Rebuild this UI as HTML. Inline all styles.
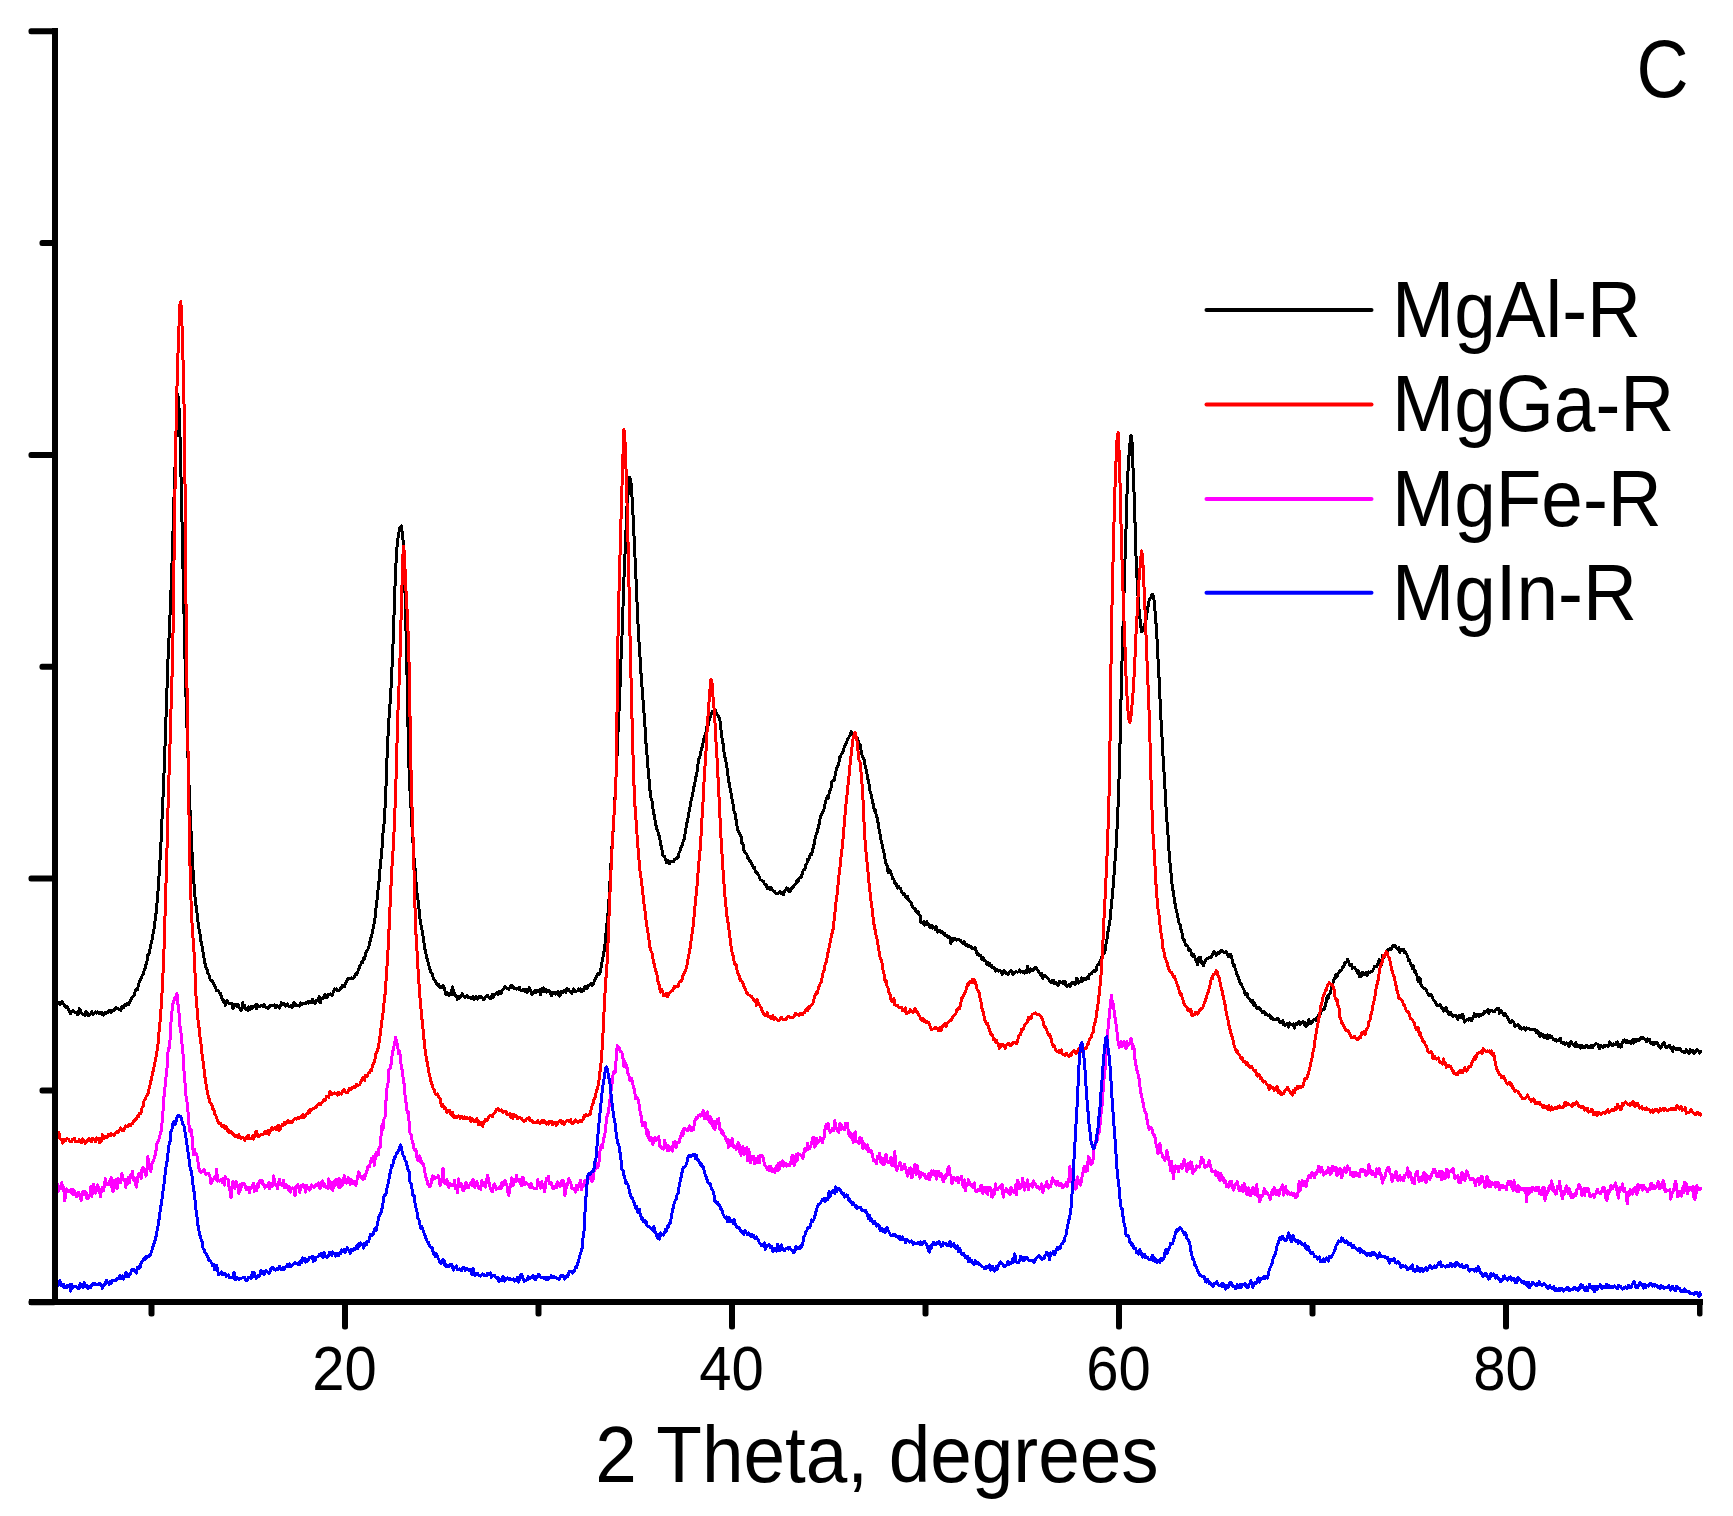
<!DOCTYPE html>
<html><head><meta charset="utf-8"><title>XRD</title>
<style>
html,body{margin:0;padding:0;background:#fff}
svg{display:block}
text{font-family:"Liberation Sans",Arial,sans-serif;fill:#000}
.t{font-size:58px}
.b{font-size:74.7px}
.c path{fill:none;stroke-width:3;stroke-linejoin:round;stroke-linecap:round}
</style></head><body>
<svg width="1733" height="1516" viewBox="0 0 1733 1516">
<rect width="1733" height="1516" fill="#fff"/>
<g class="c" shape-rendering="crispEdges">
<path d="M56.0 1003.7l1 .3 .9-1 1-.6 1 2.4 .9-1.5 1-1.5 1 1.1 .9 1.5 1 1.5 1 .6 .9 1.3 1-.9 1 3.3 .9 1.1 1 2.1 1-1.3 .9-1.1 1-.1 1 .8 1 .7 .9 0 1 2.4 1-.9 .9-5.2 1 1.3 1 2.8 .9 .7 1 1.3 1-.2 .9 1.3 1-4.4 1 .6 .9 3.4 1-1.6 1 1.2 .9-1.8 1-1.7 1 2.7 .9-.2 1-1.3 1-.9 .9 1.1 1-1.3 1 1.4 .9-.1 1 .1 1-.5 .9 1.9 1 .7 1-1 .9-2.1 1 1.2 1-1.3 .9 .1 1-2.1 1 2 .9 .6 1-1.9 1 .3 1-1.8 .9 .2 1-1.7 1 .6 .9 .2 1 .6 1 0 .9 1.1 1-3.7 1 1.4 .9-.5 1-2.2 1-.9 .9 .8 1-1.7 1 1.2 .9-2.1 1-2.5 1-1.5 .9-1.1 1-1.2 1-1.5 .9-4.3 1-1.3 1 .8 .9-3.8 1-4 1-2.2 .9-1.6 1-2.5 1-1.4 .9-3.3 1-2.6 1-4 .9-2.2 1-7.6 1-.1 .9-4.1 1-6 1-3.4 1-5.8 .9-4.1 1-7.9 1-6.7 .9-8.9 1-10.9 1-13.9 .9-15 1-14.6 1-21.8 .9-21.8 1-20.3 1-26.4 .9-24.6 1-30.8 1-27.5 .9-26.8 1-18.6 1-23.8 .9-23.1 1-27.4 1-32.6 .9-30.7 1-29.6 1-30.1 .9-27.5 1-15.6 1 11.4 .9 22.3 1 40.2 1 43 .9 44.4 1 43.6 1 46.9 .9 37.4 1 32 1 30.6 .9 24.4 1 28.8 1 21.2 1 20.5 .9 19.5 1 15.1 1 13.4 .9 11.3 1 7.2 1 7.2 .9 9.3 1 6.2 1 4.4 .9 7.6 1 4 1 6.4 .9 5.5 1 5.5 1 4.6 .9 0 1 5.2 1 .9 .9 4.2 1 2 1-.4 .9 1.5 1 2 1 2.8 .9 1.2 1 3.3 1-.2 .9 0 1 2.4 1 .3 .9 3.8 1 1.9 1 2.5 .9-1.2 1 5 1-3.2 .9-1.3 1 1.9 1 1.2 1-.4 .9 .5 1-.3 1 5.2 .9-2.5 1-2.4 1 .4 .9 2 1-2.1 1 3.2 .9 .7 1 1.9 1-.6 .9-7.1 1 5.2 1-2.2 .9 3.6 1 0 1 1.3 .9-3.4 1 2.4 1-.6 .9-2.7 1 2.1 1-1.6 .9 .2 1-1.8 1 4 .9-4.6 1 1.5 1 .8 .9-.6 1-.2 1-.9 .9 1.5 1-1.8 1 2 .9 .4 1 .8 1 .5 1-1.8 .9 .4 1-1.8 1 .6 .9-.5 1 .1 1-.5 .9 2.7 1-2 1 .1 .9 1.1 1 1.2 1-1.9 .9-3.4 1 2.1 1 .1 .9-1.2 1 2.4 1-1.2 .9-.9 1 1.3 1 1.1 .9 .6 1-1.7 1 2.3 .9-2.7 1-2.1 1 2.5 .9-1.4 1 1.7 1 0 .9 .3 1 .2 1-3.1 .9 1.5 1-1 1 0 .9 .5 1-.5 1-1 1-.7 .9 1.2 1-1.6 1 .3 .9 1 1-3.3 1 2.6 .9-.3 1 1.9 1-3 .9 .1 1-.9 1-3 .9 6.3 1-3.6 1-1.3 .9 .8 1-2.5 1-1.8 .9 2.6 1 .3 1-2.9 .9-.4 1 .6 1-1 .9 1.4 1-1.1 1-3.2 .9-2 1 .6 1-.7 .9 1.9 1-.7 1 .2 .9-1.8 1-.6 1-2.7 .9 .9 1 .6 1-2.6 1-2.4 .9-1 1-2.5 1 .6 .9-.3 1-.6 1 .9 .9 0 1-1.1 1-1.9 .9-2.5 1 1.3 1-3.5 .9-1.9 1-3.2 1-1.1 .9-3.3 1 .7 1-4.3 .9 .4 1-4.7 1-2.4 .9-1.3 1-2 1-3.5 .9-5 1-3.5 1-2.9 .9-5.8 1-4.5 1-7 .9-9.6 1-7.1 1-11.4 .9-6.9 1-12.6 1-10.1 .9-9.4 1-15.9 1-8.7 1-16 .9-18.3 1-28.7 1-23.2 .9-16.5 1-14 1-15 .9-18.4 1-20.6 1-28.2 .9-28 1-26.3 1-18.4 .9-12.6 1-3.9 1-7.4 .9-1.2 1-1.6 1 8.3 .9 8.5 1 24 1 37.1 .9 34.5 1 44.6 1 53.5 .9 34.6 1 22.2 1 16.1 .9 17.7 1 15.6 1 15.2 .9 8.7 1 13.9 1 12.2 .9 6 1 8.6 1 10.1 .9 7 1 3.4 1 7 1 5 .9 8.6 1 3.2 1 6.8 .9 1.1 1 5.4 1 2.9 .9 3.2 1 2.3 1 .9 .9 4.5 1 1.1 1 1.5 .9 1.8 1 2.1 1-.8 .9 2.9 1 .5 1-1.4 .9 1.4 1-1.9 1 1.4 .9 3.5 1 4.4 1-2.2 .9 1.2 1 1.2 1-1.9 .9 1 1-3.8 1-3.6 .9 7.6 1-1.4 1 3 .9-.2 1 3.4 1-.8 .9-2.2 1 .9 1-1.8 1-1.8 .9 1.9 1 1.3 1 .6 .9-.7 1-1 1 2.1 .9-.7 1 .8 1 .4 .9 .4 1-2 1 2.7 .9-1.3 1-1.8 1 .9 .9 1.8 1-1.3 1-1.7 .9 0 1 2 1 .2 .9 1.7 1-1.2 1-1.7 .9-.4 1-1 1 1.4 .9 .8 1 1 1-2 .9-2.5 1 2.9 1-1.8 .9-1 1-.7 1-1.1 .9 1.5 1-2.7 1 1.6 1 .2 .9-3.2 1 .1 1-1.9 .9-1.8 1 1.1 1 .9 .9 .6 1 .2 1-1.8 .9-1.1 1-1.1 1 2.5 .9-1 1 2 1 .1 .9 .5 1-.9 1 .6 .9-1.6 1 2.3 1 1.3 .9-.1 1-1.4 1 1.6 .9-2.1 1 1.9 1 1.7 .9-2.1 1-2.8 1 1.6 .9 2.3 1 2.9 1-1.5 .9-1 1-1.1 1 1.6 .9-2.4 1 1.2 1-.5 1-1.4 .9 5.5 1-6 1 .8 .9-1.9 1 3.8 1-2 .9 2.4 1-.6 1-1.2 .9 .3 1 2.9 1 2.5 .9-3.7 1-.1 1 1.3 .9 .7 1-1.4 1 .9 .9-1.7 1 4.2 1-.4 .9-4.6 1 1.3 1 .4 .9-2.1 1 .4 1 1.2 .9-3.7 1 .4 1 .7 .9 1.4 1 .8 1 1.7 .9-1.7 1-3.2 1 1.1 .9 2 1-.7 1-.2 1-1.9 .9 1.7 1-1.7 1 2.8 .9-1.8 1 .8 1-2.1 .9-2.7 1 .4 1 1.8 .9-2.6 1-.2 1-1 .9-1.2 1 2.6 1-1.3 .9-2.2 1-2.6 1-2 .9-1.6 1-2.4 1 1 .9-1.4 1-3.1 1-6.4 .9-4.4 1-6.2 1-3.8 .9-11.3 1-10.7 1-9.1 .9-8.6 1-16.7 1-18.6 .9-17.1 1-15.3 1-14.4 .9-15.4 1-17.9 1-21.1 1-20.4 .9-23 1-20.1 1-24.7 .9-25.2 1-24 1-29 .9-27 1-23.1 1-23.1 .9-25.1 1-11.2 1-11.2 .9-9.1 1 2.6 1 11.8 .9 14.7 1 20.5 1 22 .9 19.2 1 22.4 1 22.7 .9 19.9 1 15.1 1 14.8 .9 16 1 11.4 1 13.4 .9 11.9 1 14.6 1 16.6 .9 8.8 1 14.1 1 10.6 .9 10.3 1 7.9 1 2.4 .9 8 1 5.2 1 5.1 1 6 .9 4.2 1 2.2 1 3.4 .9 3.4 1 6.7 1 2.4 .9 7.1 1 1.7 1 .3 .9 2.9 1 3.5 1-2.6 .9 1.2 1 2.4 1-2.3 .9 .5 1-.6 1 .5 .9-2.3 1-.4 1-.3 .9-1.1 1-.4 1-4.6 .9-1.9 1-3.7 1-1.6 .9-3.3 1-2.1 1-5.9 .9-4.7 1-6.4 1-3.9 .9-5.8 1-4.2 1-6.8 .9-4.4 1-2.4 1-8.1 1-1.8 .9-8 1-2.3 1-6.8 .9-8.1 1-3.1 1-2.6 .9-6.1 1-1.3 1-5.8 .9-5.1 1-1.9 1-3.6 .9-5 1-.5 1-5.1 .9-3.2 1-2.1 1-3.4 .9-.2 1-1 1 1.1 .9-.9 1 4.1 1 .4 .9 2.2 1 1 1 8.4 .9 9.6 1 3.8 1 7.9 .9 7.8 1 3.1 1 5.9 .9 5.1 1 9.4 1 5 .9 5.4 1 4 1 7 1 4.4 .9 6.8 1 1.6 1 7 .9 6.3 1 4 1 1.9 .9 2.1 1 1 1 7.9 .9-.6 1 7.2 1 2.2 .9 .7 1 .7 1 3.9 .9 .5 1 2.8 1 .3 .9 2 1 2.1 1 2.1 .9-.2 1 4.4 1-.2 .9 1.4 1 1.5 1 2 .9 3 1 .4 1 1 .9 0 1 2.2 1 1.1 .9 .6 1 3.2 1-.6 .9-.1 1 2.1 1-2 1 2.3 .9 .1 1 1.2 1 .4 .9 2 1 .3 1-.8 .9 0 1-1.7 1 2 .9-1.2 1 .9 1 1.5 .9-3.1 1-1.6 1-2 .9 2.1 1-1.3 1 3 .9-.4 1-2.3 1-1.7 .9 .1 1-1.9 1-1.3 .9-.9 1-2.9 1 1.3 .9-3.3 1-1.3 1 .4 .9-2.7 1-3.7 1-2 .9 .6 1-5.3 1-.6 .9-4.6 1 .7 1-4.4 1-1.3 .9 .5 1-5.1 1-2.4 .9-5.9 1-4.4 1-3.5 .9-1.6 1-5.4 1-2.8 .9-6.7 1-1.7 1-2.6 .9-1.8 1-2.4 1-5.9 .9-2.8 1-3 1 1.5 .9-4.2 1-3.6 1-2.4 .9-6.2 1-.9 1 .1 .9-4.2 1-4.4 1-4.8 .9-1.2 1-2 1-7 .9-1.1 1-2.7 1-.8 .9-3.1 1-3 1-2.8 .9-1 1-3.5 1-1.2 1-1.9 .9-1.2 1-3.5 1 1.3 .9 2.9 1-.3 1-1.4 .9 2.2 1 1.4 1 3 .9 3.6 1 .2 1 5.3 .9 4.8 1 2.7 1 1.4 .9 5.5 1 3.5 1 4.7 .9 5.9 1 3.3 1 8.4 .9 2.3 1 4.7 1 4.6 .9 4.4 1 4.6 1 0 .9 5.9 1 1.9 1 6.6 .9 5.8 1 4.6 1 6.1 .9 3.2 1 5.6 1 3.5 .9 5.6 1 4.6 1 1.1 1 7.2 .9-2.4 1 .7 1 2.9 .9 2.2 1 3.3 1 .3 .9 4.5 1-.8 1 3.4 .9 1.8 1-1.9 1 1.9 .9 .2 1 3.7 1 .6 .9 1.9 1-.6 1 2.1 .9 2.1 1-2.1 1 3.4 .9 1.4 1 1.1 1 .7 .9 3.4 1 1.5 1 .8 .9-.3 1 4 1-.3 .9-.4 1 2.8 1 1.3 .9 6.9 1 0 1 1.2 .9-2.1 1 3.6 1-1.9 1-1.4 .9 3 1-.3 1 2.7 .9 .5 1-2.6 1 3.1 .9-1.2 1 .6 1 1.8 .9-2.7 1 5.5 1-1.6 .9-.4 1 1.5 1 1 .9-1.2 1 1.7 1-.1 .9 2.7 1-.2 1-.5 .9 2.5 1-1.1 1 1.9 .9 4.9 1-4.5 1 1.7 .9-.9 1-1.5 1 1 .9 1 1-.4 1-.3 .9 .8 1 .4 1 1.6 .9 .2 1 1.5 1-2.3 1 3.5 .9 .1 1-.5 1 2.2 .9-1.1 1 .3 1 .4 .9 2.2 1 0 1-.4 .9-.5 1 2.8 1 3.7 .9-.7 1 1.9 1 .4 .9-.6 1 4 1-2 .9 3.2 1 .2 1 .5 .9 3.2 1-1.7 1 2.7 .9-2.3 1 3.1 1-.9 .9 2.6 1 .2 1-.4 .9 3.5 1-1.6 1 .4 .9 1.2 1-.8 1 .5 .9 1 1 2.6 1-3.5 1-.2 .9 1 1 1.4 1-.1 .9 1.1 1-1.2 1-1.4 .9-1.1 1 .7 1 3.5 .9-1.6 1-.9 1-.4 .9 0 1 .4 1-.5 .9-2 1 2.5 1-.4 .9 .3 1-.4 1 1.4 .9-1.6 1 1.3 1-6.5 .9 3.3 1 2.5 1-3.1 .9 .4 1 1.4 1-1.8 .9 1 1-2.5 1-.1 .9 1.9 1 .7 1 2.6 .9 .5 1 2.4 1-1.7 1 4.8 .9-3.3 1 .4 1 .5 .9 .6 1 1.4 1 1.2 .9 2 1 .1 1 1.3 .9-2.6 1 .2 1 3.3 .9-1.2 1 1.1 1 1.3 .9 .3 1-3.9 1 1.2 .9-.1 1 .7 1-2 .9 3 1-2.5 1 2.9 .9 1.7 1-.8 1-.8 .9 2.3 1-2.5 1-1.6 .9-.2 1 .5 1 1.3 .9-1.3 1-4.8 1 1.6 .9 3.2 1-.8 1-.9 1-3.5 .9 3.1 1-2.6 1 1.1 .9-.6 1 .5 1-2.3 .9 1.6 1-4.5 1-.2 .9 0 1-1.7 1-.8 .9-1.5 1 1.8 1-1.6 .9-4.4 1-1.2 1 .2 .9-3.1 1-1.8 1-3.7 .9-1.1 1-2.2 1-.7 .9-7.1 1-3.4 1-8.4 .9-5.4 1-4.3 1-9.7 .9-9.9 1-10.2 1-10.5 .9-14.8 1-11.6 1-14.8 .9-19.3 1-21.8 1-30.7 1-37.4 .9-42.4 1-36.3 1-34.4 .9-29.6 1-34.1 1-29.4 .9-32.7 1-22.6 1-15.9 .9-11.9 1-8.5 1 4.2 .9 23.4 1 23.7 1 28.5 .9 33.7 1 23 1 20.2 .9 12.1 1 11.9 1 8.6 .9 7 1-.5 1-3.1 .9-1.9 1-3.9 1-3.9 .9-7.5 1-5.8 1-5.5 .9-1 1-1.2 1-3.1 .9 1.6 1 5.1 1 11.1 .9 11.6 1 15.5 1 19.7 1 18.9 .9 19.2 1 21.3 1 17.2 .9 17.6 1 15.5 1 17.1 .9 16.3 1 17.3 1 10.8 .9 14.7 1 15 1 9.5 .9 8.4 1 12.2 1 1.8 .9 9.9 1 3.8 1 6.1 .9 2.4 1 6.1 1 4.4 .9 .9 1 5.4 1 3.5 .9 5.9 1-.5 1 4.3 .9 1.6 1 .4 1 1.1 .9 4.3 1-2 1 2.5 .9 3.4 1 1.5 1-1.8 .9 2.5 1 2.4 1 2.8 1 2.5 .9-6.9 1 3.3 1-4 .9 5.9 1-.7 1 3.1 .9-3.5 1-1.2 1-1.4 .9-.7 1-.8 1-.8 .9-.2 1 .4 1-1.8 .9-2.8 1-1.4 1 1.7 .9 2.1 1-1.7 1-.8 .9 .8 1-1.6 1-1.1 .9 1.1 1-.9 1 1.1 .9 .9 1-1.3 1 1 .9 1.8 1 2.5 1-1.7 .9-1 1 2.6 1 4.1 .9 4.4 1-.8 1 5.4 1 1.8 .9 3.9 1 1.2 1 3.6 .9 2.8 1 .5 1 2.8 .9 1.6 1 2.2 1 3.9 .9 .4 1-1.2 1 4.4 .9 .2 1 1.2 1 2 .9 1.3 1-1.9 1 4.6 .9-2.3 1 2.8 1 2.8 .9 .3 1-1.2 1 .3 .9 1.8 1 1.6 1 1.2 .9-1.3 1 .3 1 3.3 .9-1 1 1.4 1 .7 .9-1 1 1 1 3.1 .9-1.8 1 2.4 1 .1 1 0 .9 .2 1-1.9 1 .8 .9 1.6 1 2.4 1-1.5 .9 1.4 1-2 1 4.2 .9 .3 1 0 1-1.4 .9-.2 1 3.7 1-4.6 .9 1.4 1 .3 1-.2 .9-.4 1 4.3 1-4 .9-.6 1 .7 1-1.3 .9-1.6 1 3.3 1-2 .9 .4 1-1.8 1 3 .9-2.2 1 4.3 1-2.3 .9 .3 1-4.5 1 4 .9 .1 1-1.3 1-2 1-.8 .9-.4 1 1 1-2.1 .9-1.3 1-1.9 1 1.9 .9-5.6 1-.6 1-1.6 .9 .6 1-1.2 1-3.7 .9-3.6 1-5.5 1 2.8 .9-4.5 1-1.2 1-3.4 .9-3.8 1-3.2 1-3.7 .9 .1 1-4.5 1 2.2 .9-2.8 1-1.1 1-2.4 .9 .6 1-1.1 1-2.8 .9 0 1-4.5 1-.5 .9 .2 1-2.8 1 2.6 .9 2.6 1 .8 1-1.1 1 4.1 .9-1 1 0 1 1.7 .9 1.2 1 2.7 1-2.2 .9 5.5 1-1.3 1 1.5 .9-4.4 1 1.6 1 1.3 .9-.3 1-2.7 1 3.7 .9-1.5 1-2.3 1 .6 .9-.8 1 0 1-1.2 .9-1.9 1-2.3 1 .5 .9 .1 1-2.9 1-2.6 .9-1.8 1 2.8 1 2.3 .9-9 1 2.3 1-2 .9-.5 1-1.8 1-2.8 .9-1.3 1-.5 1-.8 1 .9 .9-2.2 1-1.5 1 .4 .9-.7 1 2.2 1 1.4 .9 .7 1-1.9 1 4.7 .9-1.9 1-1.1 1 1.1 .9-.6 1 2.9 1-.1 .9 1.7 1 1.8 1 4.7 .9-.7 1 4.2 1 .4 .9 4.3 1-3.2 1 5.8 .9-.3 1 3.1 1 2.3 .9 5.1 1-3.9 1 1.3 .9 5.9 1 1 1 1.5 .9 .7 1 .2 1 .8 .9 2.5 1 1.9 1 1.7 1 .1 .9-1.1 1 1.6 1 2.7 .9 1.5 1 .9 1 1.8 .9 2.1 1 .3 1 .4 .9-1 1 .4 1 3.2 .9-.1 1 2.9 1-2.8 .9 2.1 1-2.7 1 3.4 .9 2.6 1 .7 1-2.2 .9 1.2 1 2.5 1 .4 .9-.4 1-.6 1-.3 .9 2.7 1 1.6 1-2 .9-2.2 1 2.2 1-.2 .9-2.9 1 4.8 1 3.1 .9-.9 1-1.2 1-.4 1 .6 .9-2 1 1.1 1 1.2 .9-2.2 1-1.5 1-3.2 .9 2.6 1 .4 1-2.2 .9 .2 1 2 1-2.5 .9 1.4 1-1.1 1 .4 .9-3 1 .8 1-1.3 .9-.5 1-.9 1 3.3 .9-2.8 1 .7 1-.8 .9 .8 1 .6 1-.3 .9-1.4 1-1.1 1-.5 .9-.3 1 5.2 1-1.8 .9-.9 1 2.1 1 1.1 .9 2.2 1-2.4 1 2.2 1 .8 .9 2.3 1 2.2 1 1.4 .9-.3 1-2 1 1.4 .9 1.4 1 3.5 1-.6 .9 .1 1-1.9 1 1.2 .9 2.9 1-.5 1 1.4 .9-.9 1-.5 1 1.7 .9 .9 1-2.3 1 .9 .9 0 1 0 1 .5 .9-.3 1 0 1 .5 .9-.4 1 1.4 1 1.7 .9-1.4 1 1.1 1 3.7 .9 .6 1-2.6 1 1.5 .9-1.2 1 3.5 1-2.1 1 .6 .9 2.2 1-3.3 1 3.2 .9-2.6 1 2.1 1-.7 .9 1.4 1 1.6 1 .4 .9-.8 1 1.7 1-.7 .9-.6 1 .6 1-2.1 .9 4.4 1 .4 1-.9 .9 1.6 1 .4 1-1.5 .9 .3 1 1.8 1 1.7 .9-3.6 1-1.4 1 2.5 .9 0 1 1 1 1.4 .9-3.7 1 3.4 1 .1 .9-.7 1 .1 1 2.5 .9-3.1 1 2.1 1-.2 1 .9 .9-1.5 1-1.2 1 1.6 .9 .9 1 0 1-2 .9-.3 1 2.4 1-1.8 .9-.5 1-1 1-.9 .9 .5 1 .6 1 4.3 .9-2.2 1-1.5 1 1.2 .9 1.3 1-2 1 1 .9-1.3 1-.3 1 1.3 .9-1.5 1-3 1 1.8 .9 1.6 1 .1 1-1.5 .9 .5 1-.1 1-2 .9-.6 1 4.9 1-2.4 .9 2.8 1-.2 1-4.4 1-1.9 .9-.6 1 2 1-1.7 .9 2 1-.4 1 .4 .9-.9 1 2.1 1-.7 .9-3.6 1 3.9 1-3.8 .9 2 1-2.1 1 1 .9 .4 1-1.6 1-1.4 .9 1 1-1.5 1 1.1 .9 .7 1 .5 1 2.2 .9-2.6 1 1.6 1-1.3 .9 3 1 1.1 1-1 .9 2.4 1-.3 1-2 .9 .8 1-.5 1 1.9 .9 1.9 1 1.5 1-.4 1-2.6 .9-2.1 1-.2 1 2.2 .9 2.2 1 .5 1-1 .9-.4 1-1.2 1 3.3 .9-.1 1 3.3 1-4.7 .9 1.4 1 1.2 1-1.1 .9 .8 1 .6 1-1.3 .9 .7 1 1.4 1 1 .9 .1 1 .7 1 .2 .9-3 1 .8 1 1.8 .9 1.3 1-4.1 1 1.8 .9 .5 1-1.1 1 3.4 .9-1.8 1-.9 1-1.8 .9 1.1 1 .7 1 1.8 1-1.3" stroke="#000"/>
<path d="M56.0 1135.3l1-.8 .9 0 1-1.8 1 5.6 .9 1.4 1 0 1 3.5 .9-2 1-2 1 1.3 .9-1.8 1 .2 1 .3 .9 1.7 1 .5 1 .5 .9-2.2 1 0 1-1.3 1 3 .9-.2 1 .3 1-.1 .9-1.9 1 1.9 1 1.6 .9-4.1 1 1 1 .7 .9 2.6 1-1 1-.3 .9-2.2 1-1.3 1 1.6 .9 1.1 1 .3 1-3.3 .9 .8 1 .7 1 2.1 .9-3.9 1 1 1-.1 .9 3.8 1-3 1 1.5 .9-6.5 1 4.3 1-.5 .9-1.8 1 .8 1 0 .9-2.5 1-.1 1 1.2 .9-2.2 1 .3 1 .1 1 1.4 .9-2.2 1-.5 1-1.6 .9 1.3 1-2.1 1-.6 .9-1.8 1 2.8 1-1.3 .9 1.2 1-2.8 1-2 .9 .4 1 .3 1-1.7 .9-.5 1 1.5 1-2 .9 .1 1-2.2 1-1.9 .9 .5 1-1.7 1-2 .9 .3 1-3.2 1 .2 .9-1.9 1-4.9 1-.9 .9-5.5 1-1.4 1-2.3 .9-1.5 1-1.4 1-4.9 .9-3.4 1-4.5 1-4 1-4.9 .9-3.5 1-5.6 1-4.2 .9-6.3 1-4.3 1-11.7 .9-10.6 1-8.3 1-17.3 .9-13.3 1-23.8 1-24.3 .9-33.7 1-31.3 1-36.9 .9-37 1-30.6 1-31.2 .9-32.9 1-32.2 1-43.9 .9-67.9 1-71.3 1-58.8 .9-41.4 1-34 1-26.8 .9-24.5 1-3.4 1 18.2 .9 28 1 38.8 1 56.1 .9 118 1 104.5 1 56 .9 64.1 1 59.6 1 41.6 1 27.2 .9 16.8 1 11.8 1 15.6 .9 22.2 1 22.1 1 8.6 .9 12.2 1 5.6 1 10.2 .9 5.7 1 10.5 1 6.7 .9 7.6 1 8.2 1 6.7 .9 5.3 1 5 1 3.6 .9 3.8 1 1.2 1 1.6 .9 4.1 1 .1 1 5.2 .9 .8 1 2.5 1 3.9 .9 1.9 1-.2 1 .3 .9 2.1 1 1.2 1-1 .9 2.5 1 .5 1-2 .9 4.3 1-.9 1 3 1-.5 .9-1.2 1 1.4 1 2.2 .9-.7 1 2.1 1-.1 .9-.3 1 2 1-3.1 .9 3.2 1 .6 1-1.3 .9-.1 1 1.4 1 1.8 .9-2 1-1.4 1 2 .9-3.8 1 3.3 1-.3 .9 .3 1-2.5 1 3.1 .9-1.4 1-4.4 1-1.9 .9 2.4 1 3.3 1-1.1 .9-.5 1-.8 1 .4 .9-.1 1-1.5 1-2 .9 2.3 1 .2 1-3.5 1 3.9 .9-2.8 1-1.6 1-2.4 .9 1.8 1-.6 1-1.2 .9-.2 1 2.4 1-3.2 .9-1.3 1 5.1 1-2.1 .9-2 1-1.6 1 .8 .9-2.8 1 1.7 1-1.5 .9-1.9 1-.3 1 2.1 .9 0 1-1.1 1 .9 .9-1.6 1-1.3 1-1.5 .9-.1 1 1.1 1-1.4 .9 .7 1-.6 1 .1 .9-1.5 1-1.7 1 3.1 .9-.6 1-2.3 1-1 1 0 .9-3 1 1.8 1-3 .9 .4 1-1.3 1-.5 .9-.1 1-.8 1-.4 .9-1.7 1-1.2 1-.8 .9 1.7 1-1.6 1-.6 .9-1.2 1-2.5 1 1.2 .9-1.8 1-2.5 1 .5 .9 1 1-6.3 1 2.7 .9 .6 1-1.3 1 .1 .9-.4 1 .9 1-.5 .9 2 1-3.1 1 2.2 .9-1.2 1 .8 1-2.7 .9-1.1 1-.5 1 2 1 1 .9 .3 1-1.6 1-2.8 .9 1.4 1-.4 1-2.1 .9 0 1-1.4 1 1.6 .9-2.6 1-.8 1 .8 .9 0 1-.4 1-3.3 .9-1.4 1-2.6 1 1.7 .9 1.3 1-5.3 1 1.6 .9-1.2 1-2.8 1-.1 .9-2.5 1 .6 1-4.5 .9-2.4 1-2.2 1-3.4 .9-6 1-.9 1-3.7 .9-5.2 1-7 1-8.6 .9-6.3 1-7.5 1-9.9 1-8.4 .9-12.1 1-15 1-15 .9-18.5 1-22.3 1-21.6 .9-19.7 1-13.9 1-17.3 .9-21 1-25.6 1-32.6 .9-37.2 1-25.1 1-23.9 .9-28.7 1-40.4 1-31.8 .9-27 1 5.5 1 24.3 .9 18.9 1 17.9 1 21.8 .9 30.2 1 56.8 1 53.4 .9 32 1 30.2 1 33.2 .9 34.2 1 28.3 1 16 .9 17.1 1 15.3 1 13.8 .9 10.9 1 10.8 1 9.4 1 10.3 .9 9 1 9.3 1 4 .9 6.1 1 5 1 6.2 .9 2.3 1 5.3 1 1.8 .9 3.6 1 .9 1 4.2 .9 .3 1-.4 1 1.7 .9 1.7 1 1.5 1 5.9 .9 1.6 1-1.4 1 3.2 .9-.5 1 1.6 1 3.5 .9-1.1 1-.9 1-.4 .9 3.9 1 .9 1-3 .9 4.5 1 .9 1-1 .9 1 1-.5 1-1 .9 .6 1 1.7 1-2.1 1 1.2 .9 1.3 1-1.8 1 1.5 .9-1.2 1 1.3 1 0 .9 .3 1-1.5 1 4.4 .9-3 1 1.9 1 1.3 .9-1.1 1 .9 1-3.1 .9 3.6 1 2.7 1-3.1 .9 2.8 1-2.4 1 4.2 .9-4.3 1-.4 1-2.5 .9 1.3 1-.9 1-2.1 .9-1.3 1-.9 1 .7 .9 .7 1-2.8 1-1.1 .9-.4 1-3.1 1-.2 .9-.8 1 2.7 1-.5 1-.6 .9 2.2 1 .2 1-.7 .9-.2 1-.2 1 2.9 .9 .9 1-.3 1-.9 .9 3.2 1-2.7 1 4 .9-3.7 1 1.7 1-.9 .9 1 1 2.5 1-1.8 .9 .5 1 .4 1 .1 .9 1.8 1 1.1 1 .3 .9-.4 1-1.2 1-1.6 .9-.1 1-.1 1 3.1 .9-.8 1 .2 1 2.1 .9-.4 1-.1 1 .4 .9 .5 1-2.1 1 1.6 1 1.3 .9-1.6 1-.9 1-.7 .9 2.2 1-1.8 1 2 .9 1.3 1-1.4 1 1.3 .9-2.3 1 .7 1-1 .9 3.5 1-2.2 1 .4 .9-1.1 1 3.3 1-1.2 .9-1.5 1-.9 1-1.8 .9 2.2 1 1.4 1-1.8 .9 2.9 1-1.9 1-1.5 .9-.7 1 .1 1 .4 .9-.1 1-1.4 1 3.9 .9-1.1 1 .7 1-1.4 .9-2 1 1.5 1 .9 1 .1 .9-1.5 1-.1 1 1.1 .9-1.7 1-1 1-3.7 .9 1.4 1-1.9 1 .8 .9-.1 1-1 1 .3 .9-4.5 1-4.4 1-2.2 .9-3.8 1-1.8 1-4.6 .9-3.5 1-2.9 1-5.4 .9-7.5 1-8.2 1-11.2 .9-12.9 1-20.8 1-21.1 .9-15.9 1-12.7 1-14.4 .9-24.6 1-27 1-21.8 .9-19.6 1-21.3 1-16.6 .9-14.2 1-14.4 1-25.6 1-72.9 .9-69.6 1-42.4 1-34.8 .9-32.6 1-33.7 1-31.1 .9-25.8 1 10.5 1 25.8 .9 29.9 1 37.7 1 43.3 .9 45.7 1 42.1 1 41.9 .9 35.5 1 32.2 1 28.7 .9 9.2 1 16.5 1 12.7 .9 12.3 1 11.3 1 11.3 .9 3.6 1 9.3 1 9.4 .9 7.8 1 6.1 1 10 .9 5.5 1 6.2 1 7.4 .9 6.6 1 3.7 1 1.8 .9 5.4 1 4.5 1 4.4 1 4.4 .9 1.3 1 8.2 1 2.2 .9 5 1 3.7 1-2.4 .9 1.3 1 4.5 1 .4 .9-.7 1-1.7 1 3.4 .9-2.6 1-.9 1-1.2 .9-.7 1-.7 1-1.5 .9-3 1 1.1 1-.8 .9 .1 1-.6 1-3.5 .9-.7 1-.7 1-1.7 .9-3.8 1-1.9 1-2 .9-2.2 1-2.9 1-6.1 .9-5 1-4.7 1-7.7 .9-6.5 1-5.8 1-10.4 1-8.9 .9-11.4 1-7.9 1-12.2 .9-13.1 1-10.3 1-10.2 .9-15.2 1-18.7 1-14.5 .9-20.4 1-14.4 1-15.6 .9-17.1 1-15.9 1-13.8 .9-11.9 1-9.9 1 3.9 .9 12.4 1 10.8 1 14.9 .9 17.5 1 15.5 1 19.6 .9 16.6 1 20.6 1 22 .9 13.9 1 17.4 1 14.1 .9 12.7 1 11 1 10.2 .9 7.3 1 5 1 9.1 .9 7.1 1 7 1 5.5 1 3.3 .9 5.7 1 2.9 1-.4 .9 5.5 1 3.9 1 1 .9 5.1 1-.3 1 2.1 .9 1 1 3.6 1 1.6 .9 2.1 1 2.6 1 1 .9 1 1 .2 1 1.2 .9-.2 1 2.2 1 1.2 .9 1.1 1 .5 1 4.2 .9-5.7 1 4.7 1 .6 .9 1.6 1 1.3 1 3.7 .9 1.8 1 .9 1 1 .9 .1 1-2.6 1 3.8 .9-.5 1 .7 1 1.7 1-1.4 .9-1.3 1 3.8 1-1.8 .9 .8 1 1.1 1 .9 .9 .4 1-1.4 1-1.1 .9-1 1 1.6 1 1 .9-.1 1-1.1 1 .3 .9-2.1 1-.8 1 .4 .9 1.3 1-.6 1 .3 .9-.1 1-1 1-3.4 .9 .3 1 1.5 1-.1 .9 1.1 1-2.2 1-.3 .9 1.5 1-.7 1-2.1 .9 .2 1-2.8 1-.5 .9 1.6 1-3.8 1 .6 1-1.6 .9-.8 1-1 1-2.2 .9-5.7 1-1.1 1-2.6 .9 .6 1-4.9 1-2.1 .9-3.1 1-.5 1-5.6 .9-4.4 1-2.5 1-6 .9-1 1-5.1 1-5.8 .9-3.7 1-5.6 1-4.5 .9-4.5 1-3.1 1-9.1 .9-7 1-10.6 1-7.2 .9-7.8 1-11.5 1-6.9 .9-9.9 1-7.9 1-9.3 .9-10.2 1-12.3 1-10.9 .9-10 1-8.4 1-10.9 1-8.2 .9-10.4 1-8.6 1-8.5 .9-7.9 1-2.5 1-2.4 .9 4.7 1 4.8 1 10.1 .9 8.2 1 2.1 1 9.7 .9 10.5 1 14.7 1 22.7 .9 17.2 1 13.1 1 10.2 .9 7.8 1 12.2 1 8.9 .9 9.3 1 5.8 1 8.6 .9 9.3 1 4.9 1 4.9 .9 5.7 1 2.5 1 8.6 .9 3.7 1 6 1 1 .9 4.9 1 7.2 1 3.3 .9 6.7 1-1.3 1 6.1 1 1.7 .9 4.8 1 1.7 1 5.2 .9 1.6 1 .1 1-2.6 .9 6 1 .6 1 0 .9 .1 1 1.9 1 0 .9-.1 1 .3 1 3.2 .9-1.3 1 1.8 1-3.5 .9 6 1-.3 1-1.2 .9 .3 1-2.9 1 2 .9-.6 1 1.7 1-2.4 .9-1.8 1 2.9 1-.3 .9 2.7 1 1.4 1 1.6 .9 2.2 1 1.3 1-2.3 .9 3.4 1-.8 1 2 1-1.2 .9 1 1 .2 1 2.8 .9 1.7 1 2.6 1-.6 .9-.5 1-.1 1-1 .9 1.1 1-.2 1 2.3 .9-2.6 1-.5 1 2.8 .9-3.7 1-1.3 1-.5 .9-1.9 1 3.1 1-2.4 .9-1.6 1-.7 1-.7 .9 .1 1-2.1 1-2.3 .9-.7 1-1.3 1-.4 .9-3.9 1-.9 1-1.5 .9 1 1-3.8 1-7.2 .9 .2 1-2.9 1-1.1 1-2.6 .9-2.3 1-5.2 1 1.4 .9-2.2 1-1.9 1 1.4 .9-2.9 1 2.5 1-2.8 .9 2.3 1 3 1 5 .9 .7 1 1.7 1 6.1 .9 2.9 1 7.3 1 2.5 .9 3.9 1 5.7 1 1.6 .9 2.3 1-1 1 5.2 .9 1 1 4.4 1 .7 .9 .3 1 4.4 1-.6 .9 3.3 1-2 1 2.9 .9 .5 1 5.1 1-4.3 .9 2.2 1-2.3 1 .7 1 .6 .9 2.9 1-3 1-1.1 .9-.5 1-.1 1 1.9 .9-.1 1-2.3 1 .2 .9-1.2 1 0 1 .9 .9 .4 1-3.7 1-3.4 .9-1.9 1 .1 1-5.4 .9 .4 1-.8 1-4 .9-.4 1-1.2 1-1.6 .9-3.8 1 1.4 1-2.1 .9 1.6 1-4.6 1-.2 .9-.4 1-.6 1 .4 .9 1.5 1-.2 1 0 .9 .9 1 .4 1 2.3 1 2.6 .9 4.2 1 2.1 1 .2 .9 3 1 2.8 1 2.1 .9-.6 1 1.8 1 5 .9 3.8 1 1.3 1-.8 .9 4.4 1 1.2 1-.2 .9 1.1 1-2 1 2.5 .9-2.8 1 3.5 1 1.5 .9-.7 1 1.5 1-2.7 .9 1.7 1 .2 1 1.5 .9-1.9 1 1.5 1-3.8 .9-.7 1-1.1 1 1.1 .9 2.1 1-1.6 1-1.4 .9-2 1-.3 1 .2 1 3.4 .9-.8 1-2.2 1-.7 .9 .5 1-.7 1-3.6 .9-.6 1-3.6 1-2.3 .9-1 1-3.5 1-1.3 .9-6.9 1-2.8 1-4.8 .9-7.2 1-6.3 1-8.4 .9-8.9 1-9.8 1-15.8 .9-16.5 1-23.2 1-18.4 .9-18.3 1-21.4 1-24.3 .9-28.3 1-36.7 1-78.8 .9-67.1 1-45.8 1-39.1 .9-37.9 1-30.2 1-22.1 .9-18.8 1-1.9 1 25 1 36.9 .9 38.2 1 34.2 1 30.3 .9 26.4 1 26 1 28.8 .9 18.1 1 14.4 1 9.2 .9 2.8 1-5.7 1-10.2 .9-10.6 1-15.4 1-18.5 .9-22.8 1-17.4 1-18.5 .9-18.5 1-11.6 1-12.4 .9-10.1 1 3.8 1 19.5 .9 22.8 1 20.7 1 27.4 .9 22.5 1 24.5 1 24.2 .9 33.5 1 36.8 1 28.3 .9 20.9 1 14.9 1 17 .9 16.7 1 13.4 1 11.3 1 5.3 .9 9.8 1 8.5 1 5.1 .9 9.9 1 2.4 1 6.8 .9 2.4 1 1.8 1 4.5 .9 3 1 1.8 1 2 .9-.3 1 2 1 2.5 .9-.2 1 3.5 1 1.6 .9 3.4 1 2.4 1 3.4 .9 3.8 1-.6 1 3.7 .9 2.5 1 3.7 1 1.4 .9 1.4 1 .6 1 3 .9-1.1 1 2.5 1-2.7 .9 6 1 .7 1-1 .9-.4 1-2.2 1 .8 1 1.2 .9-1.3 1-3.1 1-.1 .9-1.1 1-.1 1-2.4 .9-3.2 1-2.6 1-2.4 .9-4.5 1-1.6 1-3.8 .9-3.6 1-5.6 1 .3 .9-4.8 1 0 1-.6 .9-2.7 1 .4 1 4.9 .9 .7 1 4.5 1 5 .9 3.1 1 5.1 1 4.6 .9 3.5 1 6.1 1 6.3 .9 2.8 1 6 1 3.8 .9 3.7 1 4 1 2.5 .9 4.1 1 4.8 1 2.2 1 3.2 .9-1.3 1 2.9 1 1.1 .9 1.5 1 2.7 1-1.3 .9 3.5 1-.3 1 .8 .9 2.4 1-1.4 1 1.8 .9 1.4 1 1 1 1 .9-1.6 1 2.3 1 1.5 .9 1.2 1-.6 1 4.7 .9 .5 1-1.5 1 1.2 .9 3 1-.9 1 2.6 .9 1.7 1-.5 1 .1 .9 2.1 1 .8 1 1.8 .9 3.3 1-4.3 1 1.1 .9 1 1 .1 1 2.9 1-2 .9 .3 1-2.7 1 5.6 .9 1.3 1-2.1 1 3.3 .9 .4 1-1.3 1 0 .9-2.8 1-1 1-.1 .9-2.2 1 2.6 1 1.5 .9 1.2 1 1 1 1.6 .9-4.5 1 2.1 1-4 .9 .1 1-2.1 1 1.4 .9-2 1 .9 1 .5 .9-.5 1-1.5 1-4.2 .9-2.9 1 .5 1-.9 .9-3.1 1-3.3 1-4.2 .9-4.6 1-3.7 1-6.3 1-3.1 .9-7.5 1-6.2 1-7.2 .9-2.7 1-7.6 1-2.7 .9-9.3 1-2.1 1-4.3 .9-5.2 1-.6 1-4.3 .9 .6 1-4.8 1-1.4 .9-2 1 1.8 1 .2 .9 .3 1 2.3 1 2.6 .9 7.8 1 2.7 1-.8 .9 6.1 1 1.7 1 10 .9 2.3 1 4 1-.3 .9 3.2 1 1.2 1 2.9 .9-.7 1 1.7 1-.5 .9 2.8 1 2.1 1 2 1-.2 .9 .2 1-1.6 1 1.8 .9 .6 1 1.1 1-1.7 .9 .4 1-.5 1-3.2 .9-2.2 1-.1 1-1.3 .9 3.3 1-3.3 1-3.2 .9 .1 1-6.2 1-1.5 .9-4.9 1-3.4 1-5.9 .9-4.1 1-3.7 1-7 .9-6.1 1-1.7 1-7.1 .9-5.3 1-5.5 1-2.1 .9-2 1-6.1 1 1.4 .9-2.8 1-2.3 1 1.2 .9 3.6 1 1.2 1 3.7 1 5.9 .9 3.5 1 3.8 1 2.4 .9 3.9 1 4.7 1 4.8 .9 3.2 1 5.2 1-.1 .9 .2 1 1.3 1 2.2 .9 3 1 .2 1 3.6 .9 2 1 .1 1 1 .9 2.3 1 4.2 1 .4 .9 .5 1 2.3 1 .8 .9 4.9 1 1.8 1 .1 .9-2.4 1 7.5 1-2.2 .9 4.5 1 1.9 1 3.2 .9-.8 1 2.9 1 1.2 .9 2 1 4 1 1.1 1-.1 .9-.6 1 .7 1 5.6 .9 .3 1-1.8 1 1.5 .9 1.1 1-1 1-.4 .9 4.3 1-.2 1 .2 .9 2.1 1-5.2 1 3.6 .9 .5 1 4.5 1-1.6 .9 .7 1-1.3 1 .9 .9 .8 1 3.1 1 .4 .9 3.2 1-.6 1 .6 .9 1.2 1-.9 1-2.3 .9-1.2 1 1.7 1-1.4 .9 1.4 1-2.5 1-2.4 .9 3.3 1 .5 1-1.8 1-2.1 .9-1.1 1 .5 1-2.4 .9-2.9 1-1.8 1-2.6 .9 2.4 1-2.3 1-3.8 .9 .4 1-1.1 1-.7 .9-.4 1 2.1 1-5.1 .9 2.2 1-.3 1 1.5 .9-.3 1-.7 1 .8 .9-.7 1 2.7 1-2.9 .9 4.2 1-1.5 1 6 .9 5.2 1 3.9 1 2.8 .9 .5 1 2.7 1 .1 .9 2.7 1-.4 1-.9 .9 2.2 1 1.7 1 2.6 1 1.6 .9-.2 1-1.8 1 2.9 .9-1.6 1 2.1 1 3.5 .9-.3 1 2.8 1-.7 .9 .1 1 .4 1 2.2 .9 .6 1 1.7 1 1.7 .9 1.2 1 0 1-.4 .9-.3 1-.8 1-2.4 .9 2.3 1 1.6 1 .4 .9 2.1 1-1.3 1-1 .9 .8 1 3.7 1-.3 .9-.8 1 1.2 1-1.5 .9 2.6 1-.5 1 1.4 .9 2.1 1-1.9 1 1.9 1 .3 .9-1.9 1 3.6 1-4.2 .9 2.6 1 2 1-3.3 .9 2.8 1-1.2 1-.9 .9 .5 1 .7 1-2.2 .9 1.4 1-2.2 1 1.3 .9 .4 1 .3 1-.6 .9-3.3 1-1.5 1 2.9 .9-.4 1-1.4 1 1.2 .9 .4 1 .9 1 1 .9-3.5 1 .2 1 .9 .9-1.1 1-1.4 1 2.3 .9 1.5 1 .9 1-.1 .9 1.1 1-1.1 1 .7 1 2.8 .9-1.8 1 1.7 1-1.9 .9 3.9 1-.5 1 .1 .9-2.4 1 1.1 1 4.5 .9-1.2 1-1.3 1 1.8 .9 1.5 1-3.6 1 1.4 .9-.3 1 1.1 1-.5 .9-1.6 1 .6 1 1 .9-1.5 1-1.3 1-1.1 .9 2.5 1-.4 1-1.1 .9-1.2 1-.1 1 1.2 .9-.7 1-2.9 1 1.9 .9-4.5 1 3 1-.6 .9 2.4 1-.3 1-5.6 1 1.8 .9-2 1-1.2 1 1.1 .9 .3 1 1.1 1-.5 .9 1.5 1-1.6 1-1.5 .9-1.3 1 4.4 1 1.3 .9-3.6 1 .8 1-.6 .9 3.1 1 1.6 1-.6 .9-1 1 2.6 1-.4 .9 .3 1 .9 1-2 .9 1.3 1 0 1 .9 .9 1.9 1-1.8 1-.2 .9 2.5 1-1.8 1-1.5 .9 0 1 1.8 1 1.1 .9-.4 1-2.9 1 1.9 1-1.7 .9-.6 1 1.8 1-1.7 .9 1.2 1 .5 1 .7 .9-1.6 1 .5 1-.9 .9-.6 1 1.6 1-.1 .9-1.6 1 1.2 1-3.8 .9 .2 1 1.8 1 1.6 .9-.6 1-1.9 1 3.8 .9-1.2 1 .1 1-1.6 .9 5.5 1-1.2 1 .1 .9 .5 1-1 1-2.1 .9 2.3 1 .8 1 .3 .9 1.4 1 .2 1-2.3 .9 .5 1 1.3 1-.6 1 1.5" stroke="#f00"/>
<path d="M56.0 1196.4l1-13.3 .9 8.5 1-2.5 1-2.6 .9 2.2 1-6.4 1 6.6 .9-1.4 1 13.5 1-7.7 .9-4.4 1 2.9 1-1.3 .9 .8 1-1.3 1 3.2 .9-3.7 1 5.4 1-4.4 1 2.8 .9 3.7 1-1.5 1-3.3 .9 1.7 1 3.1 1 3.3 .9-7.7 1-1.3 1 3.5 .9-3.7 1 1.4 1 6.4 .9-.5 1-1.2 1-2.2 .9-8.4 1 9.9 1-6.6 .9-5.8 1 5.9 1 3.1 .9-4.1 1-4 1 2.6 .9 3 1 5.9 1-6.9 .9-2.2 1 3.2 1-4.2 .9-7.8 1 6.1 1 .3 .9-1.4 1-2.1 1 2.7 .9-6.8 1 11 1 3.6 1-11.8 .9 6.2 1-7.5 1 10 .9-10.6 1 3 1 .4 .9 1.1 1-9.2 1 4.7 .9 2.2 1-1.2 1 8.2 .9-8.1 1 4.9 1-6.9 .9 5.6 1-7.8 1 1 .9-4.8 1 8.8 1-2.2 .9 4.5 1 4.6 1-6.6 .9-5.6 1-1.7 1 1.8 .9 3.3 1-10.2 1-.7 .9 .6 1 4.5 1 3.6 .9-6.2 1-13.1 1 9.1 .9 3.3 1 2.1 1-7.1 1-2.6 .9-1 1-4.4 1-2.2 .9-10 1-1 1-3.1 .9-1.9 1-6.3 1-.8 .9-14.2 1-8.7 1-18.5 .9-3.4 1-12.6 1-8 .9-17.5 1 .3 1-10.8 .9-17.4 1-10.2 1-7.1 .9-2.2 1-3.3 1 1 .9-5.2 1 10.6 1 7 .9 14.5 1 5.5 1 12.5 .9 3.9 1 20.9 1 9.5 .9 16.9 1 4.3 1 8.2 .9 11.9 1 11.6 1 1.6 1-2.3 .9 11.8 1 13 1-5.3 .9 5.7 1-1.2 1 3.3 .9 6 1 6.7 1 2.5 .9 .3 1-.7 1-1 .9-1.7 1 4.1 1 1 .9-.7 1 .3 1-.3 .9 2.3 1 7.6 1-1.1 .9-2.3 1-.8 1-2.7 .9 2.8 1-9.7 1 11.6 .9-1.5 1 1.5 1-.6 .9-1 1 3 1-3.9 .9 6.5 1-8.7 1 2.1 .9 .5 1 0 1 9.3 1 3.2 .9 6.5 1-13.1 1-3.8 .9 4.1 1 3 1-7.2 .9 4.2 1 .3 1 8.1 .9-9.2 1 5 1-6.1 .9 .1 1-.4 1 1.3 .9 3.1 1 2.3 1-2.6 .9 2.4 1 3.3 1-5.7 .9 .9 1-2.2 1-2.7 .9 8.3 1-5.5 1 5 .9-6.5 1 2.9 1-6.5 .9-.1 1 2 1-2.3 .9 4.6 1-.3 1 3.3 .9-2.4 1 .4 1 .5 1-4 .9 6.4 1-5.3 1 3 .9-.9 1-10 1 8.3 .9 .9 1-.5 1 4.4 .9-5.8 1-3.8 1 4.8 .9-.3 1 1.5 1-5.1 .9 7.7 1-.8 1-2.3 .9 2.2 1 2.2 1-2.9 .9 5.8 1-2.4 1-1.8 .9 .1 1 .5 1 7.3 .9-9.6 1 1.1 1-2.5 .9 2.6 1 5 1-6.8 .9 0 1-1 1 2.5 .9-1.2 1 6.4 1-7.1 1 3.5 .9 .4 1 1.1 1-1.3 .9-4 1 1.6 1 .7 .9 .3 1-2.6 1 1 .9-.1 1-2.9 1 3.7 .9 2.3 1-3.8 1-4.2 .9 1.5 1 4.7 1-2.2 .9 3 1-1 1 1.3 .9-9.4 1 4.2 1 5.4 .9-6.3 1 8.3 1-5.3 .9-4.3 1 4.3 1-5.5 .9 3.5 1 4 1-8.4 .9 8.7 1-7 1 5 .9-2.8 1-7.1 1 5.3 1 2.2 .9-3.5 1-1.7 1 5 .9 1.3 1-4.9 1 3.2 .9 1.3 1-1.9 1 2.1 .9 1.4 1-4.7 1-5 .9-3.8 1 2.4 1 3.1 .9 .9 1 1.2 1-3.4 .9 2.4 1-4.7 1-.8 .9-5.2 1-1.8 1 .8 .9-4.6 1-3.4 1 2 .9-4.1 1 8.7 1-7.4 .9-5.7 1 3 1-.3 .9-7.3 1-.2 1-12.1 .9-10.6 1 4.6 1-10.5 1-.9 .9-15.8 1-13.7 1-3.9 .9-14.9 1-.5 1-2.4 .9-9.1 1-5.3 1-5.4 .9-2.3 1-7.4 1 5.6 .9 1.2 1 9.7 1-2.2 .9 4.6 1 12.5 1 1.6 .9 10.3 1 4.3 1 14.1 .9 4.6 1 9.2 1-.8 .9 9.7 1 12.2 1 .8 .9 5.1 1 3.6 1 5.8 .9 1 1-.5 1 7.8 .9 3.4 1-.5 1-4.4 .9 6.4 1-1 1 3.3 1 .1 .9 6.2 1 5.6 1 1.4 .9 5.8 1 1 1 1.9 .9-.9 1-3.2 1-6.6 .9 3.2 1-2.3 1 1.4 .9-.3 1-.7 1-1.4 .9 3.1 1 6.6 1-3.2 .9-2.8 1-11.3 1 10.4 .9 5.2 1-2 1-2.4 .9 5.3 1 3 1-4.5 .9 .6 1 1.7 1 .4 .9-1.5 1-4 1 8.3 .9-1.5 1 5.5 1-13.9 .9 7.4 1 0 1-2.5 1 6.1 .9 1 1-1.4 1-5.9 .9-1 1 4.7 1 .7 .9-2.4 1-1 1-2.1 .9 3.3 1-6.4 1 3.1 .9 4.8 1-2.8 1-3.1 .9 3.9 1 3.3 1-1.7 .9 2.7 1-8.9 1 5.2 .9-3.6 1 .9 1 4 .9-6.6 1-5 1 3.9 .9 4.6 1 4.8 1 2.1 .9 .8 1-6.9 1-.8 .9 2 1 3.4 1-.8 .9 .4 1-1 1-1.6 1 1.8 .9-6.2 1 3.7 1-1.8 .9-3.8 1 3 1 1.6 .9 7.6 1 3.2 1-7.3 .9-3.2 1-7.2 1 7.7 .9-.8 1-5.4 1 2.1 .9-6.2 1 5 1 1 .9-1.9 1 4.6 1 1.7 .9-8.1 1 .2 1 7.3 .9-1 1-1.7 1 1.2 .9 1.4 1 .1 1 2.9 .9-4.8 1 4.2 1 .1 .9 .9 1 .3 1-.2 .9 .4 1-9.3 1 5.6 1-2 .9 4.9 1-6.5 1 4.3 .9 1.2 1 4.8 1-7.6 .9-5.9 1 0 1-1.8 .9 7.4 1-1.4 1 .1 .9 5.5 1-1.3 1 1.5 .9-1.6 1 1.3 1-6.1 .9 .7 1 3.2 1 .4 .9-.5 1-5 1-.5 .9 6.1 1 9.3 1-6.1 .9-6.2 1 1 1-5.9 .9 2.6 1 1.6 1 5.1 .9 .9 1-.1 1 1.3 .9 2.4 1-7 1 4.4 1-3.1 .9 .1 1-6.5 1 9.9 .9-5.5 1 1.6 1-4.6 .9-1 1 2.3 1 2 .9-6.5 1 .6 1-1.5 .9-2.3 1 6.8 1-2 .9-8.1 1-.9 1-9.3 .9 2.8 1 3.3 1-3.1 .9-11.7 1-6.3 1-1.8 .9 2.7 1-9.6 1-1.3 .9-7.3 1-10.9 1-3.6 .9-2 1-8.7 1-8.3 .9-7 1-7.3 1-8.7 .9-1.5 1 1 1-14.1 1-12.4 .9 3.4 1-2.2 1 4.3 .9-.1 1 1.8 1 5.3 .9 8.6 1-5.4 1 6.3 .9-2.5 1 7.5 1 2.2 .9 5.3 1-.2 1-1.8 .9 5.3 1 4 1 2.7 .9 8.6 1-1.3 1 .3 .9 2.9 1 4.9 1 8.8 .9 1.7 1 9.3 1 0 .9-3.1 1-.1 1 7.8 .9 5.4 1-4.6 1 8.6 .9 .6 1-2.9 1 1.5 .9 5.5 1-2 1-4.8 1 3.2 .9-1.2 1 0 1-3 .9 9.7 1-.2 1 2.1 .9-.6 1 1.9 1-8.7 .9 2.6 1 4.1 1 3.4 .9-5.1 1 4.8 1-1.3 .9-1.7 1 3.8 1-9 .9 4.6 1-5.6 1 6.3 .9-5.3 1-.1 1 .6 .9-4.3 1-3 1-3.6 .9 3.4 1-6.4 1-.1 .9 .8 1 1.1 1-1.6 .9 1 1-4.2 1 2.3 .9 2.7 1-2.9 1 1.5 1-7.7 .9-2.9 1-1.5 1 1 .9-2.9 1-.4 1 1 .9-1.5 1-1.8 1-2 .9 7.7 1-3.4 1 3.4 .9-6.5 1 3.2 1 6.4 .9-5.1 1 7 1-3.7 .9 6.3 1 2.7 1 .8 .9-8.4 1 2.4 1-4.4 .9-.4 1 10.5 1 .4 .9 3.4 1-2.3 1 3.8 .9 1.2 1 2 1 3.3 .9-1.9 1 8.4 1-3.8 .9-3.6 1 5.6 1-7.3 1 8.1 .9 .8 1-.7 1 2.8 .9-1.7 1-5.4 1 2.1 .9 8.1 1 2.7 1-3.3 .9-5.3 1 8.4 1-2.8 .9 .5 1-5.3 1 13.5 .9-11.4 1 5.2 1 8.1 .9-6.5 1 3.1 1-3.3 .9 7.5 1-5.4 1 4.2 .9-.8 1-4.9 1 6 .9-7.6 1 .2 1 .8 .9 2.1 1 4.7 1 3.2 .9 .8 1 2.4 1 .8 .9-4.1 1 4.1 1-3.4 1 4.7 .9-2.2 1 1.1 1 2 .9-4.9 1-1.7 1 4.7 .9-7.2 1 6.1 1-7 .9 2 1-3.6 1 5.3 .9-3.1 1 .3 1 2.8 .9-1.8 1 1.6 1-.2 .9-1.4 1-4.6 1-4.6 .9 6.7 1 4.1 1-3.6 .9-7.7 1 5.9 1-6.6 .9 1.2 1-.9 1 1.3 .9 1.3 1 2.1 1-6.4 .9-3.9 1 2.5 1-1 .9-6.9 1 6.1 1-.5 1-3 .9-1.9 1-6.1 1-.2 .9 9.6 1-.9 1-8.1 .9 5.2 1-3.2 1 1 .9-3.3 1 1.3 1 3.9 .9-3.5 1-2.5 1-9.1 .9-3.5 1 3.7 1-4.8 .9 5.9 1 2.9 1-1.2 .9-1.6 1-1.1 1 2.8 .9-10.5 1 6.8 1 1.7 .9 2 1 1.3 1-8.9 .9 6 1-4.5 1 3.3 .9-1 1 2.7 1-6.6 .9 3.6 1-3.4 1 9.3 1 3.3 .9-3.5 1 5.2 1-3.5 .9 8 1-6.7 1-3.7 .9 9.5 1 .2 1-.3 .9 2.3 1-6.1 1 4.5 .9-3.2 1 9.8 1-1.5 .9-3.3 1 2.2 1 3.3 .9-4.5 1 7 1-.6 .9-1.1 1 1.4 1 4.6 .9 4.5 1 .2 1-.2 .9 3.4 1-7.4 1 1.1 .9-4.4 1 8.9 1-4.4 .9 3.6 1 3.6 1-.2 .9-8.7 1-1.5 1 6.5 1 1.5 .9-.2 1-1.3 1-4 .9 8.9 1-.3 1-4.8 .9-9.7 1 16.4 1 3.2 .9-3.6 1-1.2 1-3.1 .9-.1 1 6.7 1-2.5 .9 1.8 1-4.5 1 4.3 .9 1.2 1 6.3 1-4.2 .9-3.3 1-.7 1 10 .9-.2 1-6.2 1-4.2 .9-3.2 1 10.6 1-9.1 .9 4.2 1 4.1 1 4.2 .9-6.1 1 2.3 1-.9 .9 2 1-1 1 4.1 1-1.3 .9 1.1 1-4.4 1 6.1 .9-6.5 1-2.5 1 3.7 .9-3.8 1 4.3 1-3.8 .9 7.8 1-5.4 1-2.7 .9 4.9 1 .9 1-3.4 .9 2.5 1 6 1-3.9 .9 .4 1-4.5 1 1.3 .9-6.9 1-1.6 1 8.3 .9 .1 1 8.8 1-4.7 .9-2.1 1 1.5 1 1.9 .9-1.7 1-1.6 1 5.7 .9-4.7 1 .4 1-2.6 .9 7.6 1 3.5 1-7.2 1 10.5 .9-7.2 1 2.2 1-5.8 .9 1.8 1 2.7 1 1.1 .9 1.8 1-.8 1-3.4 .9 6.8 1 1.5 1 .1 .9-1.5 1 .9 1-.4 .9-4.6 1-.5 1 8.8 .9-6.8 1 1.1 1-.9 .9 5.9 1 1 1-7.2 .9 2.4 1-1.7 1 8.9 .9 .4 1-7.2 1 4.1 .9-10.2 1 4.8 1 .9 .9-1.2 1-1.3 1 1.1 .9-3.1 1-.3 1 12.5 1-5.8 .9 .5 1-3.3 1 3.5 .9-.8 1-.8 1 4.4 .9-7.9 1 4.4 1-1.3 .9 2.5 1-.2 1-8.1 .9 10.7 1-14.8 1 4 .9 4.3 1-.2 1-2.3 .9-7.4 1 4.9 1 6.7 .9-6.7 1 3.2 1-6.7 .9 9.8 1-5.4 1 0 .9 .2 1 2.5 1-6.2 .9 3.7 1-1.4 1 2.3 .9 2.5 1-1.3 1 .4 .9 2 1-1.8 1-3.4 1 8.8 .9-6.5 1 .3 1-1.7 .9-3.1 1 5.6 1 .9 .9-2.1 1 .2 1-4.6 .9-3.9 1 2.7 1 .3 .9 3.4 1 1 1-3.9 .9 2 1 1.9 1-1.4 .9 .1 1 3.7 1 0 .9-2.5 1 0 1-2.4 .9 4 1-3.7 1-4.7 .9-11.6 1 11.7 1 4 .9 2.8 1-7.2 1 5.2 .9 5.9 1-2.7 1-9.6 .9 6.8 1-1.1 1 2.6 1-5.7 .9-4.8 1-5.5 1-2.9 .9 5.6 1-5.2 1 3.9 .9-13.8 1 1.1 1 6.2 .9 .3 1-.8 1-5.1 .9-11.8 1-1.5 1-5.5 .9 1.2 1-9.8 1 2.4 .9-6.6 1-11.8 1-7.7 .9-11.9 1-14.6 1-8 .9-12.3 1-13.8 1-13.8 .9-10.8 1-8.8 1-11.6 .9-6.1 1 8.2 1 .8 .9 9.5 1 5.4 1 7.3 .9 7.3 1 9.5 1 3.7 1-3.8 .9-1.7 1 4.4 1-4.1 .9-.3 1 1 1 6.1 .9-7.1 1 4.3 1-2.9 .9 .5 1-5.6 1 4.3 .9 6.6 1-3.1 1 12.2 .9 5.6 1 5.4 1 4.5 .9 1.3 1 8.8 1 7.7 .9 4.4 1 4.4 1 4.4 .9 6.4 1 .8 1 2.8 .9 7.2 1 4.5 1 3 .9-1.5 1 .1 1 1.5 .9 5.3 1-.4 1 3.6 .9 6.4 1 3.9 1 5.9 1-6.5 .9-4.6 1 8.7 1 2.2 .9 3.4 1 .2 1 2.9 .9-1.7 1-8.1 1 3.1 .9 6 1 3.1 1 7.6 .9-9.1 1 6.7 1 10.9 .9-9.7 1-3.3 1 .7 .9 0 1 5.1 1-5.4 .9 1.4 1-2.9 1 3.5 .9-4.2 1-4.5 1 5.2 .9 2.2 1 4.3 1-8 .9 .1 1 5.3 1-6.8 .9 .4 1 11 1-2.1 .9-.8 1-1 1-3.5 1 .2 .9 0 1 1.2 1-5 .9-4.7 1 2.8 1-.6 .9 7.1 1 .6 1-2.1 .9 .7 1-3 1-2.6 .9 4.3 1 4.3 1 2.8 .9-.2 1-.5 1-.3 .9 4.8 1-1.8 1-1.6 .9 6.5 1 1.9 1-7 .9 1.8 1 4.8 1-1.7 .9 4.3 1-1.5 1 5.6 .9-1.6 1 1.6 1-5 .9 3.9 1-4.6 1 6.2 .9 2.7 1-3.1 1-3 1-.3 .9-2.1 1 5 1 4.3 .9-.6 1 .3 1-5.1 .9 6.5 1-8.3 1 2.8 .9 .9 1 7 1-4.8 .9-1.8 1 8.1 1-.7 .9-5.3 1-2.7 1 1.7 .9 4.8 1 1 1-10.3 .9 11.3 1-.7 1 6.8 .9-2.1 1-4.4 1 1 .9-4.6 1-3 1 5.2 .9-2.1 1 .7 1 2.2 .9 .8 1 4.2 1-5.7 .9-3.3 1 3.7 1-7 1 3 .9 4.2 1-3.9 1 2.7 .9 1.9 1-5.6 1 .1 .9-3.4 1-1.6 1 10.3 .9-8 1-.4 1 5.9 .9 1.5 1-2.2 1 2.3 .9 .2 1-1.5 1 2 .9-1.6 1 1 1 3.5 .9-1 1-1.1 1-4.8 .9-9.5 1 8.7 1-7.6 .9-1.9 1 4.7 1-2.2 .9-1.6 1 5.3 1-5.4 .9-3.2 1-2.7 1 2.1 .9 .3 1-5.2 1 .7 1-.2 .9 4.5 1-4.9 1 .6 .9-2.9 1-4.1 1 2.9 .9 2.8 1-5 1 3.6 .9 4.4 1-3.1 1 1.6 .9-2 1 .5 1-4.5 .9 1.7 1 5.2 1-1.6 .9-6.7 1 .2 1 4.2 .9-3 1-.4 1 8.4 .9-5 1 2.8 1-5.4 .9 1 1 8.8 1-4.6 .9-3.1 1-2.2 1 4.1 .9-.1 1-6 1 3.8 .9-1.7 1 6.2 1-.6 1 2.4 .9-3.8 1 4 1-.6 .9-2.9 1 1.7 1 1.7 .9 .7 1-5.5 1-2.2 .9 2.2 1-2 1 2.3 .9-1.1 1 5 1-3.7 .9 1.4 1-8.8 1 8.4 .9-2.4 1 4.3 1-3.2 .9 2 1 1.2 1 1.9 .9-7.7 1 4.5 1-2 .9-2.9 1 6.5 1 0 .9 8.1 1-3.3 1-2 .9-2.4 1-5.2 1-1.6 .9-1.6 1 2 1 4.9 1 0 .9 7.7 1-3.5 1-2.8 .9 2.1 1-6.2 1 4 .9 5.1 1-4.1 1-.9 .9 4.8 1-3.1 1 1.9 .9 1.8 1-5.7 1 0 .9-.5 1-6.8 1 9.4 .9-5.2 1 .7 1 6.1 .9 4 1-3.7 1 4.6 .9-9.5 1-1.3 1-1.7 .9 5.9 1 4.3 1-2.7 .9-.9 1 3.2 1-6.3 .9-2.1 1 .5 1 9.8 .9-7.6 1 2.1 1-1 1 2.9 .9-2 1-3.9 1-1.3 .9-3 1 0 1 3.1 .9 3.9 1 .7 1-3.2 .9-2.2 1 5.2 1 3.1 .9-8 1 6.8 1-2.1 .9 1.8 1-8.6 1 .1 .9 7.5 1-6 1 .4 .9-.6 1-2 1-.2 .9 5.1 1 4.9 1-1.9 .9 .7 1-2.2 1 7.6 .9-1.7 1 1.2 1-10 .9 3.8 1-2.3 1 6.4 .9-2.1 1-7.3 1 2 1 3.2 .9 1.7 1 1.8 1-1.3 .9-.3 1 1.2 1 2.4 .9 4 1-5.1 1-.4 .9-2.2 1 6.2 1-.6 .9-7 1 .2 1 4.7 .9-.2 1 6.4 1-7.2 .9-4 1 2.2 1 8.3 .9-5.5 1 4.8 1-3.9 .9 .8 1 1.2 1-1.8 .9 4.7 1-5.1 1 3.8 .9-3.3 1 6.9 1-3.6 .9 1.5 1-2.1 1 .3 .9 2.2 1-1 1 3.1 1-6.1 .9-2.3 1 3.3 1-3.6 .9 .2 1 6.7 1 2.1 .9-9.5 1 7.6 1 1.9 .9 .8 1-5.6 1 6.2 .9-4.8 1 2.5 1 .3 .9-1 1 .9 1 1 .9-2.4 1 13.5 1-12.8 .9-.3 1 4.4 1-4.9 .9 3.5 1-4.3 1 .9 .9 1 1 1.5 1-3.3 .9 1.8 1-2 1 6.3 .9-2.6 1 3.9 1-.3 .9-7.1 1 .1 1 12.8 1-4.5 .9-4.2 1 .6 1-4.4 .9-1.9 1 2.4 1-7.4 .9 9.4 1-2.7 1 3.9 .9 2.8 1-1 1-7.2 .9 1.9 1-6.4 1 6.9 .9 5.4 1 4.7 1-7.5 .9 3 1-4.7 1-3.4 .9 2.9 1 4.5 1-4.8 .9 3 1 5.7 1-2.5 .9 2.5 1-1.9 1-2.2 .9 2.2 1-5.7 1-.9 .9-4.4 1 1.4 1 2.7 .9 6.6 1 .1 1-6.6 1 6.9 .9-6.5 1 2.4 1-2.9 .9 .7 1 6.7 1 1 .9-1.4 1 0 1-.8 .9 2.5 1-3 1-.9 .9-4.3 1 2.6 1 .9 .9 1.5 1-1.8 1-2 .9-2.8 1-.2 1 5.9 .9 5.3 1 2.5 1-10.1 .9 2.7 1-3.6 1-4.5 .9 3.8 1-.8 1-2.8 .9 0 1-2.6 1 6.1 .9 4.9 1 4.2 1-10 .9-.7 1 1.6 1-5.3 1 7.4 .9-3 1 3.8 1 .5 .9 11.5 1-11.7 1 3.4 .9-6.1 1 .9 1 3.6 .9-4.6 1 .9 1-3.1 .9 5.3 1 2 1-10.3 .9 5.9 1-4.7 1 1.5 .9-1.1 1 4.1 1-4.7 .9 3.3 1-.9 1 1.8 .9 2.3 1-2.8 1 .7 .9-4.8 1-1.8 1 5.8 .9-2.9 1-.5 1 2.8 .9-1.4 1-.4 1-4.9 .9 7 1-.5 1-3.5 1 2.5 .9-6.4 1 2.6 1 7.9 .9-1.5 1 1.4 1-.3 .9-.4 1-.6 1 9.3 .9-6.3 1-.2 1-2.8 .9-4.6 1-3.9 1 4.5 .9 10.9 1-1 1-4.2 .9 2.5 1 2 1-7.3 .9 4.2 1-10.8 1 7 .9-5.2 1 10 1-6.3 .9 2.7 1-3.3 1 1.4 .9 1.7 1-3.6 1 10.9 .9 2.2 1-5 1-9.1 .9 3.3 1 1 1-.2 1-1.5" stroke="#f0f"/>
<path d="M56.0 1283.2l1 .1 .9 2.4 1-2.4 1-2.7 .9 4.6 1-.4 1 1.4 .9-1.8 1 3.3 1-.2 .9 .3 1-2.6 1 1.1 .9-1.3 1 6.1 1-6.5 .9 3.6 1-1.7 1-.1 1 .5 .9-.1 1 1.3 1-.4 .9 .9 1-5.1 1 1.6 .9-1 1 3.9 1-5.3 .9 3.7 1 0 1-.7 .9 3 1-2 1 .3 .9 .4 1-2.5 1-.4 .9-1.1 1 .2 1 1.2 .9-.7 1 .7 1-.5 .9-1 1 1.1 1 .4 .9 3.7 1-3.2 1-1.4 .9 .7 1-4.5 1 1.8 .9 .2 1 2.2 1-3.2 .9 2.7 1-3.6 1 .3 1 .2 .9 .3 1-.9 1-1 .9-.9 1 .1 1-2.6 .9 3.1 1-2.5 1-.4 .9 3.2 1-3.3 1-3.1 .9 3.6 1-2.6 1 2.8 .9-2.4 1-.4 1-3.7 .9-.5 1-.2 1 1.1 .9 .7 1 1.9 1-5.4 .9 1.3 1-2.7 1 .8 .9-4.1 1-1.5 1-.8 .9-2.3 1 1.5 1-3.1 .9 1.4 1-2.1 1-.1 .9 .2 1-2.1 1-3.4 1-3.5 .9-2.8 1-2.8 1-3.2 .9-5.5 1-3.8 1-7.3 .9-4.8 1-10.4 1-2.3 .9-8.7 1-7.9 1-6.3 .9-8.9 1-7.6 1-4.4 .9-9.8 1-6.8 1-2.7 .9-10.5 1-1.9 1-5.6 .9-1.3 1 3.2 1-3.2 .9-4 1-2.6 1-.1 .9 1.4 1 .2 1 3 .9 4.4 1 .7 1 4.9 .9 6.2 1 5.8 1 8.1 .9 4.3 1 9.2 1 6.5 1 1.8 .9 8.5 1 7.7 1 5.9 .9 9.5 1 9.4 1 6.7 .9 7.8 1 4.5 1 4.8 .9 2.9 1 2.6 1 6.6 .9 .9 1 2.8 1 1.2 .9 2.4 1 1.5 1 3.2 .9-.2 1 1.4 1 1.7 .9 2.5 1-1.3 1 5.1 .9-1.6 1-2.7 1 3.9 .9 5.1 1-.5 1-.9 .9-1.1 1 2.6 1-.8 .9 .8 1-1 1 2.8 .9-.5 1-.9 1 2.8 1-.6 .9 .1 1 .6 1-1.5 .9-4.1 1 7.7 1-.5 .9-1.9 1 1 1 .8 .9-1.1 1-.1 1 0 .9-.2 1-.2 1-.5 .9 2.9 1 .4 1-.2 .9-3.1 1-.1 1 0 .9 1.3 1-6.2 1 4.8 .9-4.2 1 3.6 1 2.1 .9-1.7 1-1 1 .7 .9-2 1-4.2 1 3 .9-1.4 1 2.5 1-2.7 .9-1 1 1.3 1 0 1 1.6 .9-1.3 1-3.1 1-1 .9-.9 1 .7 1 1.7 .9 .4 1-.7 1-1.2 .9 .9 1-2.6 1 1.2 .9 1.7 1-.2 1-1.6 .9 1.9 1-2.5 1-.4 .9-2.3 1 2.3 1-2.7 .9 2.6 1 .2 1-1.4 .9-.7 1-.7 1-1.6 .9 .8 1 .4 1 .9 .9-1.9 1 1.9 1-3.9 .9 2 1-4.5 1 2 .9-1.3 1 3.3 1-.3 1-2.3 .9 .8 1-2.9 1 0 .9 .2 1-1 1 5 .9-3.6 1 2.6 1-3.3 .9-.2 1-.4 1-2.1 .9 .6 1-1.4 1 3.2 .9 .9 1-5.3 1 4.2 .9-.3 1 .8 1-.9 .9-.9 1-3.3 1 1.8 .9 1.7 1-3.7 1 1.7 .9-.2 1 2.6 1-.9 .9-2 1 2.6 1-1.8 .9 0 1-4 1 1.5 .9 .3 1-2.6 1 3.4 1-3.3 .9-1.4 1 1.8 1 1.6 .9 2.1 1-4 1 1.6 .9-1.2 1-1.5 1 1.2 .9-1.5 1-2.5 1 2.8 .9-4.8 1 2.6 1-3 .9 1.4 1 .6 1 3.1 .9-4.6 1-.6 1 1.6 .9-2.9 1 .2 1-3.1 .9-4.1 1 1.1 1-1.4 .9 0 1-4.1 1-2.1 .9 2.2 1-5.2 1-5.1 .9-4.3 1-.7 1-2.6 .9-3.7 1-5.3 1-7.2 1-1.9 .9 .3 1-6 1-4.1 .9-4 1-6.2 1-4.2 .9-4.9 1 .3 1-4.5 .9-3.9 1-.2 1-4.2 .9 .7 1-2.6 1-3.5 .9-2.4 1 2.2 1 6.7 .9 1.8 1 1.1 1 4.4 .9 1 1 4.1 1 3.9 .9 1.5 1 11.1 1 .3 .9 6.2 1 6.4 1-.1 .9 7.3 1 4.9 1 3.8 .9 7.1 1 .6 1 4.7 .9 4.5 1-2.1 1 2.4 1 3.8 .9 1.8 1 3.1 1 2.7 .9 1.9 1 .5 1 3.6 .9 .9 1 .2 1 1.2 .9 5 1-.7 1 4.1 .9-3.5 1 2.5 1 2.8 .9 1.5 1 2.7 1 .4 .9-.8 1-2.7 1 .9 .9 4.9 1-1.1 1 2.6 .9-1.8 1 1.5 1-1.9 .9 .2 1-.3 1 2.8 .9 2.6 1-3 1 .8 .9-2.2 1 3.9 1-.5 .9-.2 1 .9 1 .8 1-1.9 .9-1.2 1 .1 1 3 .9-2.6 1 .8 1 .4 .9 1.8 1-1.8 1 2.8 .9 2.3 1-6.1 1 6.2 .9 1.1 1-2.3 1 1.7 .9-1.5 1 2.3 1 0 .9 .4 1-1.1 1-1.1 .9 1.5 1-.5 1 .9 .9-.3 1-2.3 1 .6 .9 .9 1-1.9 1 4.6 .9-2.1 1-.3 1 .1 .9 2 1 0 1 1.4 .9-1.1 1 4.3 1-1.9 1 .2 .9 .6 1-4.3 1 4.6 .9 .2 1-3 1 .6 .9-.8 1 1.5 1-.8 .9 .5 1 .4 1 .4 .9-1 1 2.1 1-.2 .9-.6 1-3.1 1 5 .9-2 1-4.6 1-1.1 .9 2 1 2.8 1 2.3 .9-1.2 1 .1 1-.4 .9-3.2 1 2.1 1-.8 .9-.4 1-.4 1-1.9 .9 1.3 1 2.4 1 .2 .9-3.2 1 1.1 1-3.1 1 2.3 .9 .6 1 .6 1-.1 .9 .9 1-1.1 1 1.6 .9 .8 1-2.1 1 1.7 .9-1.3 1 0 1-2.3 .9 1.1 1 .8 1-1 .9 .5 1 .6 1 .7 .9-.2 1 1 1-2.6 .9-1.6 1 1.3 1-.4 .9 1 1 2.2 1-2 .9-1.6 1 1 1-3.2 .9-2.1 1 .3 1 0 .9 1.5 1-1.1 1-1.7 .9-3.1 1 .8 1-4.9 1-1.1 .9-5.5 1-2.1 1-4.2 .9-2.7 1-13 1-4.6 .9-22.9 1-12.7 1-12.9 .9-6.5 1-1.3 1 .6 .9-1.7 1-1 1-.1 .9-1.9 1-7.5 1-2.4 .9-10.1 1-13.3 1-10.6 .9-9.4 1-9.4 1-10.3 .9-9.6 1-5.2 1-6.6 .9-6.5 1-1.8 1 3.5 .9 4.7 1 6 1 5.2 .9 10.8 1 9.1 1 7.4 .9 5.6 1 4.5 1 10 1 7.2 .9 3.3 1 2.3 1 6.7 .9 6.7 1 10.2 1 .6 .9 4.5 1 3.8 1 4.3 .9-.5 1 1.9 1 3.3 .9 4.4 1 3.7 1 2.4 .9 .3 1 3.5 1 .9 .9 5.2 1-1.8 1 5.6 .9 .4 1-2.9 1 5.2 .9 3.6 1-.5 1 4 .9-1.6 1 2.8 1-1.3 .9 4.4 1 .6 1 .2 .9 .1 1 1.4 1-.4 .9 2.9 1-4.7 1 6.6 1-.3 .9 3.9 1 2.2 1-3.6 .9 4 1-6.1 1 1.5 .9-.3 1 .9 1-2.2 .9-3.5 1 2.1 1-5.3 .9 .5 1-3.6 1-.4 .9-5.7 1-5.2 1-4.5 .9-3.9 1-2.9 1-.8 .9-5.1 1-.6 1-7.9 .9-3.8 1-4.6 1-5 .9-4 1-1.5 1-.7 .9-.6 1-3.1 1-4.7 .9-2.6 1 1.5 1-.2 .9-1.3 1-.1 1-.9 1 .1 .9 4.3 1-3.4 1 4.7 .9 .3 1 1.3 1 3.5 .9-1.5 1 3 1 0 .9 4.3 1 3.8 1 2.2 .9 2.9 1 2.6 1 1 .9-.4 1 4 1 2.5 .9 1 1 3.7 1 7 .9 0 1 2.1 1-.8 .9 2.5 1 0 1 4.4 .9-.3 1 3.7 1 2.5 .9 1.5 1 .9 1-1 .9 5.1 1-4.7 1 1.2 .9 3.1 1-1.2 1 1.1 1 2 .9-3.9 1 4.7 1 1.1 .9 2.6 1 .1 1-.3 .9 2.1 1 2.2 1 .5 .9-.8 1 2.7 1-4.1 .9 1.5 1 1.8 1 1.3 .9-1.9 1 1.9 1 1.5 .9-2.2 1 2.4 1-1.5 .9 2.8 1 .6 1-1.8 .9 2.2 1 1.6 1 2.4 .9 .6 1 2.1 1-.2 .9-.7 1-1.8 1 6.5 .9-3.6 1 .5 1-.5 .9-1.7 1 3.1 1-.4 1 0 .9 5 1-3 1 .1 .9-.2 1 2.5 1-7.1 .9 5.3 1 1.4 1-1 .9-4.9 1 4.5 1-.4 .9 1.7 1-1.7 1-.6 .9-.4 1 1.1 1-1.9 .9 1.7 1 .8 1 .4 .9 2.1 1-.1 1-1.6 .9-4.4 1 2.8 1-.3 .9-1.4 1 1.5 1-3.5 .9 1.6 1-4.4 1-5.5 .9-1.2 1-4.4 1-.4 .9-3.3 1 .5 1-.7 1-2.8 .9-4.8 1 1.8 1-1.6 .9-2.5 1-3.8 1-4.2 .9-2.3 1-2.6 1-.2 .9-1.1 1-1.9 1-2 .9 .9 1-2.1 1 3.5 .9-3.1 1 .7 1-.2 .9-7.3 1 4.7 1-3.4 .9-1.2 1-1 1 1 .9 1.4 1-6.4 1 4.6 .9-3.1 1 .3 1 1 .9 1 1 1.9 1 1.5 .9-.7 1 3.6 1-1.3 .9-.7 1 .2 1 4.9 1-1.2 .9 2.4 1 .3 1 3 .9-2 1 2.2 1 1.4 .9-.7 1 3.2 1-1.3 .9 .4 1-.4 1 .5 .9 2.5 1 .2 1-.5 .9 1.6 1-1.4 1 2.4 .9 3.2 1 2.9 1-3.2 .9 5.4 1-1.6 1 2.7 .9 1.4 1-2.1 1 2.2 .9 2.6 1-1.4 1-.3 .9 1.9 1 4.4 1-2.4 .9 1.1 1 2.2 1-2.1 .9 2.8 1-1.2 1-4 1 3 .9 1.9 1 1.9 1 1.7 .9-.2 1-1.1 1 1.2 .9-.9 1 1.8 1-.6 .9 .2 1 2.4 1-2.2 .9 3.5 1-2.5 1-.3 .9 2.9 1-.7 1 3.4 .9-3.3 1 1.3 1 .4 .9 1.2 1-.6 1-.8 .9 .8 1 2.7 1-1.3 .9 .6 1-.4 1 0 .9-.5 1 .5 1 .9 .9-2.2 1 2.4 1-.4 .9-2.3 1 .1 1 1.4 1 1.7 .9 2.6 1 4 1 .6 .9-6 1 1.4 1-2.8 .9-2.1 1 .2 1 1.8 .9-1.4 1-.5 1 1.3 .9-2.2 1 1.8 1 2.9 .9-.4 1-3.2 1 .7 .9-.5 1 1.4 1 .8 .9 .1 1-2.4 1-1.6 .9 5.3 1-1 1-1.3 .9-1 1 4 1 .6 .9 .7 1-2.8 1 6.2 .9-3.9 1 3.4 1 2.3 .9 .6 1-1 1 2.4 1 1.8 .9-.8 1-.4 1 5.2 .9-3.3 1 3.5 1-1.4 .9 2.7 1-.3 1 1.5 .9-4 1 1.9 1 1.8 .9-1.7 1 1.6 1 1 .9 .5 1 .9 1 .7 .9 .1 1 1.9 1-.3 .9-2.4 1 1.2 1-1.5 .9-1.2 1 5.3 1-.8 .9-2.7 1 2.9 1 1.5 .9-2 1-2.3 1 2.8 .9-4 1-1.2 1-2.4 .9 .6 1 1.3 1 1.5 1 1.7 .9-1.9 1 .7 1-1.9 .9-2.2 1 3.3 1-3 .9 1.7 1-1.4 1-3.5 .9 3.4 1-8.3 1 7.7 .9 .8 1 .3 1-.2 .9-1.7 1-4.6 1 3.2 .9-2.3 1 3.7 1-.8 .9-2.7 1 1.4 1-.7 .9 1.5 1 1.5 1-.2 .9-.8 1 .6 1-.4 .9 2.7 1-2.4 1-1.8 .9-1.8 1-.2 1-.8 .9 1.2 1 .3 1 1.9 1-.2 .9-.2 1-2.7 1-1.2 .9-2.9 1 2.2 1 .8 .9 4.6 1-6.8 1 1.2 .9-.9 1-1.7 1 3.3 .9-1.6 1-3.8 1-2 .9 2.2 1-2 1 .6 .9-4 1-.2 1-2.7 .9 .7 1-5.5 1-1.5 .9-5.9 1-5.3 1-4.4 .9-3.3 1-6.5 1-14.8 .9-9.4 1-22.8 1-16.8 .9-16.4 1-16.4 1-18.6 .9-23.9 1-13.5 1-11.6 1-2.8 .9 2.5 1 9.8 1 6.7 .9 14.6 1 16.6 1 11.4 .9 10.6 1 12.5 1 6.9 .9 8.7 1 2.8 1 3 .9 0 1-4.9 1-1.3 .9-8.2 1-6.1 1-11.6 .9-8 1-14.8 1-12.4 .9-12.4 1-12.5 1-10.2 .9-8.2 1-1.6 1 9.7 .9 5.5 1 8.7 1 13.4 .9 16.6 1 14.8 1 13.4 .9 13.5 1 11.6 1 16.2 .9 13.9 1 6.9 1 8.6 1 13.3 .9 5.5 1 1.1 1 9 .9 5.1 1 3.9 1 8.2 .9 .6 1-.5 1 2.4 .9 5.1 1-.6 1 3.2 .9-.9 1 3.5 1 .8 .9-.6 1 4.3 1-.9 .9 2.4 1-4.6 1 2.2 .9 2.2 1 3.3 1-2 .9-1 1 3.1 1-.5 .9 .1 1 1.6 1 .7 .9 .7 1-1 1-3.9 .9 5.4 1-3.5 1 4.3 .9-2.3 1 3.8 1-1.6 1-.8 .9 1.8 1-3.9 1 2.4 .9-1.4 1-.7 1-5.2 .9-3.7 1 3.7 1-1.2 .9-2.7 1-2.2 1-3.8 .9 .8 1-.6 1-3.3 .9-3.5 1-3.1 1-3.9 .9 1.4 1-1.7 1-1.6 .9-.6 1 1 1 2 .9 1.4 1 2.4 1-2.1 .9 2.5 1 4.1 1 .2 .9 2.1 1 3.2 1 6.8 .9 3.9 1 4.9 1-.1 .9 5.9 1 .1 1 2 1 3.8 .9 1 1 2.9 1-.6 .9 .9 1 1 1-.3 .9 .2 1 4.9 1 .6 .9-2.9 1 1.6 1 2.9 .9-.8 1 2 1-.3 .9 2.2 1-3.3 1-.4 .9-.5 1-.7 1 2.5 .9 .9 1 .5 1 .2 .9-2.8 1 3.8 1-3.1 .9 2.6 1 2.6 1-3.8 .9 2.6 1-.8 1-4 .9-.7 1 .9 1 2.1 .9 1 1 .5 1 1.9 1-2.9 .9-1.4 1 2.9 1 .3 .9-3.3 1 3.1 1-3.4 .9 .2 1 .1 1-1.1 .9 3.7 1 .1 1 .8 .9-3.2 1-1 1-3 .9 3.2 1 3.7 1-2.6 .9-2 1-.3 1 .4 .9-4 1-1.1 1 4 .9-3.1 1-.5 1 .2 .9-1.6 1 1.8 1-2.7 .9 1 1 1.1 1-3 .9-5.5 1-2 1-2.3 .9-2 1-4.8 1-2.2 1-1.9 .9-3.3 1-5.1 1-2.4 .9-2.9 1-3.7 1 2.4 .9-2.7 1-.2 1 3.1 .9-.4 1 1.4 1-.5 .9-4 1-3.2 1 4.1 .9 1.8 1 2.6 1-5.2 .9-.6 1 3.9 1 1.3 .9 1 1-1.7 1 3 .9-2.2 1 .4 1 1.9 .9 .9 1 .4 1 1.4 .9-2.2 1 5 1 .7 .9-3.2 1 2.2 1 3.2 .9 1.9 1-1 1 .1 1 1.7 .9 2.5 1-.1 1 0 .9 2.3 1-.3 1-1.8 .9 4.6 1 .2 1 .1 .9-3.1 1 2.8 1-2.2 .9-1.4 1 2 1 1.2 .9-4.6 1 0 1 .8 .9-1.5 1-2.3 1-1.9 .9-2.2 1-3.6 1-1.6 .9-2 1-1.3 1 1 .9-.9 1-3.2 1 .9 .9 2.6 1 1.1 1 .2 .9-1.8 1 2.1 1 1.8 .9-.6 1-1 1 3.1 1 1.2 .9-2.3 1 2.4 1 .7 .9 .3 1 1.1 1 .8 .9-2.4 1 4.3 1-2.5 .9 1.1 1 1.1 1-.9 .9 1.6 1 1.6 1 1.2 .9-2.1 1-.2 1 1.6 .9 1 1-2.9 1 1.4 .9-2.2 1 1.8 1 1.1 .9-.2 1 3.1 1-1.1 .9-4.1 1 3.6 1 .4 .9-.7 1 .6 1-.2 .9 .9 1 .7 1-.8 .9 1.5 1 4.3 1-3.9 1 .1 .9 1 1-1.2 1-.3 .9 3.3 1 1 1 0 .9-1.8 1 1.7 1 .6 .9 4.2 1-1.7 1-.5 .9 .9 1 .3 1-.8 .9 1.2 1 2.6 1-.8 .9-.1 1-2 1 1.1 .9-3 1 5.9 1-1 .9 1.4 1-.6 1-4.2 .9 3.7 1-1.6 1 2.7 .9-2.8 1 .4 1 2.5 .9-2 1-.2 1-2 .9 3.8 1-2.5 1-.9 1-1.8 .9 .7 1 1.9 1-.9 .9 .3 1-1.8 1 1.8 .9-.9 1-2 1-2 .9 1.6 1-2.6 1 4.8 .9-.8 1 0 1 .3 .9 .9 1-.9 1-.6 .9 1.3 1-.3 1-3.5 .9 .8 1 2.2 1-2.1 .9 1.5 1 1.2 1-4.4 .9 .4 1 .4 1 2.5 .9 .6 1 .7 1-2.1 .9 2.2 1-.5 1 1.3 .9-.6 1-1.8 1 1.4 1 2.8 .9 1.4 1-1.4 1-.1 .9-.3 1-.1 1 1.9 .9-2 1 2.1 1-.6 .9-4.2 1 2 1 4 .9-.1 1 3.3 1 1 .9-1.2 1-2.3 1 .6 .9 3.4 1-.5 1 2.6 .9-.3 1-5.3 1 1.5 .9 .8 1-2 1 1.7 .9 2.6 1-2.7 1 2.3 .9 1.2 1 .1 1 2.8 .9-2.3 1 .8 1-4 .9-.4 1 3 1-.6 1 1.8 .9-1 1-1.7 1-.4 .9 3.1 1-.9 1-1.2 .9 2 1 2.1 1-2.5 .9 3 1-5.2 1 1.8 .9-.2 1 1.7 1 2 .9-.7 1-.3 1 2 .9-1.6 1 3 1 1.2 .9-4 1 5.6 1-2.2 .9-1.1 1-2.4 1 1.1 .9 .7 1 1 1 .9 .9-2.4 1 .8 1-2.7 .9 3.2 1-.7 1 1.4 .9-1.3 1-.5 1 1.2 1 .4 .9 1.9 1 1.6 1-1.7 .9-1.7 1 2.4 1 .3 .9 .8 1-2.3 1 3.5 .9-1.5 1 2.3 1-1.5 .9 .6 1-1.5 1 1.9 .9-2.3 1 .6 1 2.4 .9-1.7 1 .3 1-1.7 .9 1.9 1-2.1 1 3.2 .9-.8 1-.4 1-.1 .9 .3 1-3 1 0 .9 2.3 1 .2 1 1.3 .9-2.8 1 .3 1-3.9 .9 3.4 1-2.6 1 2.4 1 3 .9-1.4 1-2.4 1 3.7 .9-3.4 1-2.5 1 2.3 .9 .6 1 1.6 1-2.8 .9 5.6 1-5.7 1 .1 .9 2.9 1-2 1-.2 .9-2.3 1 2.2 1 1.6 .9-2.3 1 1.7 1-1.3 .9 .6 1-3.2 1 3.5 .9-.1 1-1.4 1 1.4 .9-.9 1 1.2 1-.9 .9-.9 1 1.4 1 .6 .9 .6 1-3.2 1 1.6 .9-.6 1 1.3 1 1.6 1-1.3 .9 .2 1-1.2 1 .3 .9 1.3 1-3.4 1 1.4 .9 1.4 1 0 1-3.4 .9-.8 1-2.7 1 3.4 .9 3 1-.8 1 .7 .9-2.1 1-2.4 1 1 .9 1.1 1 1.1 1 2 .9-3.8 1 3.4 1-2.3 .9 .4 1 .6 1-2.3 .9-.6 1 1 1 1.6 .9-1.6 1 1.6 1-1.3 .9 .6 1-.1 1 2.7 .9-.6 1 .9 1-3 1 1.7 .9-.4 1 1.7 1-.3 .9-.9 1 .3 1-.7 .9-.8 1 2.8 1 1.5 .9-1.5 1-2.5 1 2.8 .9 1 1 .6 1-4.1 .9 1.2 1 1 1-.2 .9 2 1 1 1-.6 .9 .5 1-2.4 1 2.3 .9-.8 1 1.2 1-.3 .9 .1 1 2.6 1-.5 .9-.2 1 .1 1 1.4 .9-2.1 1-.4 1 0 .9 2.1 1 2.4 1-4.4 1 2.6" stroke="#00f"/>
</g>
<g fill="#000">
<rect x="28.5" y="28.2" width="28" height="6" rx="2.5"/>
<rect x="39.5" y="240.0" width="17" height="6" rx="2.5"/>
<rect x="28.5" y="451.9" width="28" height="6" rx="2.5"/>
<rect x="39.5" y="663.7" width="17" height="6" rx="2.5"/>
<rect x="28.5" y="875.5" width="28" height="6" rx="2.5"/>
<rect x="39.5" y="1087.4" width="17" height="6" rx="2.5"/>
<rect x="28.5" y="1299.2" width="28" height="6" rx="2.5"/>
<rect x="148.5" y="1300" width="6.0" height="16.5" rx="2.5"/>
<rect x="342.0" y="1300" width="6" height="29.5" rx="2.5"/>
<rect x="535.5" y="1300" width="6.0" height="16.5" rx="2.5"/>
<rect x="729.0" y="1300" width="6" height="29.5" rx="2.5"/>
<rect x="922.5" y="1300" width="6.0" height="16.5" rx="2.5"/>
<rect x="1116.0" y="1300" width="6" height="29.5" rx="2.5"/>
<rect x="1309.5" y="1300" width="6.0" height="16.5" rx="2.5"/>
<rect x="1503.0" y="1300" width="6" height="29.5" rx="2.5"/>
<rect x="1697.0" y="1300" width="5.5" height="16.5" rx="2.5"/>
</g>
<g fill="#000" shape-rendering="crispEdges">
<rect x="52" y="28" width="6" height="1277"/>
<rect x="29" y="1299" width="1673.5" height="6"/>
</g>
<g class="t"><text transform="translate(344.5 1390.0) scale(1 1.07)" text-anchor="middle">20</text><text transform="translate(731.5 1390.0) scale(1 1.07)" text-anchor="middle">40</text><text transform="translate(1118.5 1390.0) scale(1 1.07)" text-anchor="middle">60</text><text transform="translate(1505.5 1390.0) scale(1 1.07)" text-anchor="middle">80</text></g>
<g class="b">
<text transform="translate(1636.5 97.0) scale(0.965 1.09)">C</text>
<line x1="1206.5" x2="1371.5" y1="310.0" y2="310.0" stroke="#000" stroke-width="4" stroke-linecap="round"/><text transform="translate(1392.0 336.7) scale(1 1.07)">MgAl-R</text><line x1="1206.5" x2="1371.5" y1="404.6" y2="404.6" stroke="#f00" stroke-width="4" stroke-linecap="round"/><text transform="translate(1392.0 431.3) scale(1 1.07)">MgGa-R</text><line x1="1206.5" x2="1371.5" y1="499.0" y2="499.0" stroke="#f0f" stroke-width="4" stroke-linecap="round"/><text transform="translate(1392.0 525.7) scale(1 1.07)">MgFe-R</text><line x1="1206.5" x2="1371.5" y1="592.8" y2="592.8" stroke="#00f" stroke-width="4" stroke-linecap="round"/><text transform="translate(1392.0 619.5) scale(1 1.07)">MgIn-R</text>
<text transform="translate(877.0 1481.5) scale(1 1.07)" text-anchor="middle">2 Theta, degrees</text>
</g>
</svg>
</body></html>
